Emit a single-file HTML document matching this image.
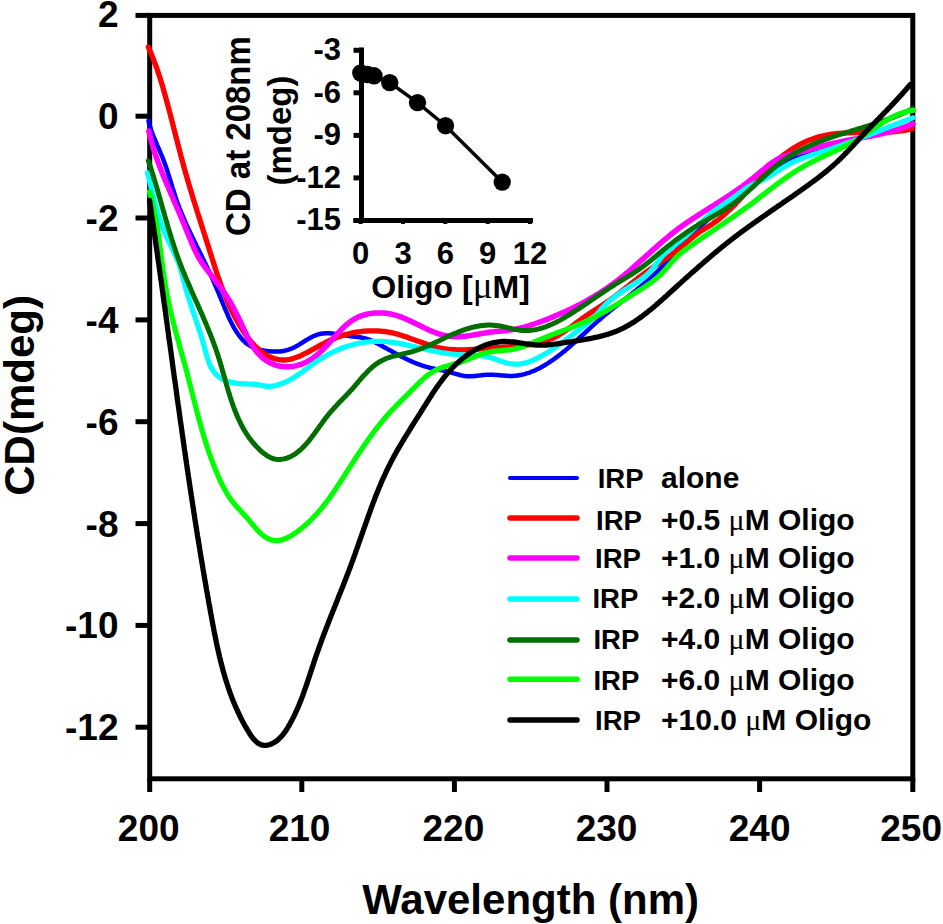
<!DOCTYPE html>
<html><head><meta charset="utf-8"><style>
html,body{margin:0;padding:0;background:#fff;width:943px;height:924px;overflow:hidden}
svg{display:block}
text{font-family:"Liberation Sans",sans-serif;font-weight:bold;fill:#000}
.t36{font-size:37px}.t42{font-size:42px}.t31{font-size:31px}.t32{font-size:32px}.t33{font-size:33px}.t34{font-size:34px}.t27{font-size:27.5px}.mu{font-family:"Liberation Serif",serif;font-weight:normal}.t30{font-size:30px}
</style></head><body>
<svg width="943" height="924" viewBox="0 0 943 924">
<rect x="149.7" y="15.4" width="763.1" height="763.4" fill="none" stroke="#000" stroke-width="5"/>
<line x1="135.5" y1="15.4" x2="150" y2="15.4" stroke="#000" stroke-width="5"/>
<text x="118.5" y="27.3" text-anchor="end" class="t36">2</text>
<line x1="135.5" y1="116.2" x2="150" y2="116.2" stroke="#000" stroke-width="5"/>
<text x="118.5" y="129.1" text-anchor="end" class="t36">0</text>
<line x1="135.5" y1="218.0" x2="150" y2="218.0" stroke="#000" stroke-width="5"/>
<text x="118.5" y="230.9" text-anchor="end" class="t36">-2</text>
<line x1="135.5" y1="319.9" x2="150" y2="319.9" stroke="#000" stroke-width="5"/>
<text x="118.5" y="332.8" text-anchor="end" class="t36">-4</text>
<line x1="135.5" y1="421.7" x2="150" y2="421.7" stroke="#000" stroke-width="5"/>
<text x="118.5" y="434.6" text-anchor="end" class="t36">-6</text>
<line x1="135.5" y1="523.6" x2="150" y2="523.6" stroke="#000" stroke-width="5"/>
<text x="118.5" y="536.5" text-anchor="end" class="t36">-8</text>
<line x1="135.5" y1="625.4" x2="150" y2="625.4" stroke="#000" stroke-width="5"/>
<text x="118.5" y="638.3" text-anchor="end" class="t36">-10</text>
<line x1="135.5" y1="727.2" x2="150" y2="727.2" stroke="#000" stroke-width="5"/>
<text x="118.5" y="740.1" text-anchor="end" class="t36">-12</text>
<line x1="149.7" y1="778" x2="149.7" y2="792" stroke="#000" stroke-width="5"/>
<text x="148.7" y="841.3" text-anchor="middle" class="t36">200</text>
<line x1="301.8" y1="778" x2="301.8" y2="792" stroke="#000" stroke-width="5"/>
<text x="299.5" y="841.3" text-anchor="middle" class="t36">210</text>
<line x1="454.4" y1="778" x2="454.4" y2="792" stroke="#000" stroke-width="5"/>
<text x="453.4" y="841.3" text-anchor="middle" class="t36">220</text>
<line x1="607.0" y1="778" x2="607.0" y2="792" stroke="#000" stroke-width="5"/>
<text x="606.6" y="841.3" text-anchor="middle" class="t36">230</text>
<line x1="759.6" y1="778" x2="759.6" y2="792" stroke="#000" stroke-width="5"/>
<text x="759.65" y="841.3" text-anchor="middle" class="t36">240</text>
<line x1="912.8" y1="778" x2="912.8" y2="792" stroke="#000" stroke-width="5"/>
<text x="911.15" y="841.3" text-anchor="middle" class="t36">250</text>
<text x="530.6" y="914" text-anchor="middle" class="t42">Wavelength (nm)</text>
<text transform="translate(34,395.4) rotate(-90)" text-anchor="middle" class="t42">CD(mdeg)</text>
<path d="M148.5,120.8 148.8,122.3 149.2,123.7 149.6,125.2 150.1,126.6 150.5,128.0 151.0,129.4 151.5,130.9 152.0,132.3 152.5,133.7 153.0,135.1 153.6,136.5 154.1,137.9 154.7,139.2 155.3,140.6 155.9,142.0 156.5,143.4 157.0,144.8 157.6,146.2 158.2,147.5 158.8,148.9 159.4,150.3 160.0,151.7 160.6,153.1 161.2,154.4 161.8,155.8 162.4,157.2 162.9,158.6 163.5,160.0 164.0,161.4 164.5,162.8 165.0,164.2 165.5,165.6 166.0,167.0 166.5,168.5 167.0,169.9 167.4,171.3 167.9,172.7 168.3,174.1 168.8,175.6 169.2,177.0 169.7,178.4 170.1,179.8 170.5,181.3 171.0,182.7 171.4,184.1 171.8,185.6 172.3,187.0 172.7,188.4 173.2,189.8 173.6,191.3 174.1,192.7 174.5,194.1 175.0,195.5 175.5,196.9 175.9,198.3 176.4,199.8 176.9,201.2 177.4,202.6 177.9,204.0 178.5,205.4 179.0,206.8 179.5,208.1 180.1,209.5 180.6,210.9 181.2,212.3 181.8,213.7 182.3,215.1 182.9,216.4 183.5,217.8 184.1,219.2 184.7,220.6 185.3,221.9 185.9,223.3 186.5,224.7 187.1,226.0 187.8,227.4 188.4,228.7 189.0,230.1 189.7,231.5 190.3,232.8 191.0,234.2 191.6,235.5 192.3,236.9 192.9,238.2 193.6,239.6 194.2,240.9 194.9,242.3 195.5,243.6 196.2,245.0 196.9,246.3 197.5,247.7 198.2,249.0 198.9,250.4 199.5,251.7 200.2,253.1 200.9,254.4 201.5,255.7 202.2,257.1 202.8,258.4 203.5,259.8 204.1,261.1 204.8,262.5 205.5,263.8 206.1,265.2 206.8,266.5 207.4,267.9 208.0,269.2 208.7,270.6 209.3,271.9 209.9,273.3 210.6,274.6 211.2,276.0 211.8,277.4 212.4,278.7 213.0,280.1 213.6,281.4 214.2,282.8 214.8,284.2 215.4,285.5 216.0,286.9 216.5,288.3 217.1,289.6 217.7,291.0 218.3,292.4 218.9,293.8 219.4,295.1 220.0,296.5 220.6,297.9 221.1,299.3 221.7,300.7 222.3,302.1 222.9,303.4 223.4,304.8 224.0,306.2 224.6,307.6 225.2,309.0 225.8,310.4 226.4,311.8 227.0,313.2 227.6,314.6 228.2,316.0 228.8,317.4 229.4,318.7 230.1,320.1 230.7,321.5 231.4,322.8 232.1,324.2 232.8,325.5 233.5,326.8 234.2,328.1 235.0,329.4 235.8,330.7 236.6,331.9 237.4,333.1 238.2,334.4 239.1,335.5 240.0,336.7 240.9,337.8 241.9,338.9 242.8,340.0 243.9,341.0 244.9,342.0 246.0,343.0 247.1,343.9 248.3,344.7 249.5,345.5 250.8,346.2 252.1,346.9 253.5,347.6 254.9,348.1 256.3,348.6 257.8,349.1 259.3,349.5 260.8,349.9 262.3,350.2 263.9,350.5 265.4,350.7 266.9,351.0 268.4,351.2 269.9,351.3 271.4,351.5 272.9,351.5 274.4,351.6 275.8,351.6 277.3,351.6 278.7,351.5 280.2,351.4 281.6,351.2 283.0,351.0 284.5,350.7 285.9,350.4 287.3,350.0 288.7,349.6 290.0,349.1 291.4,348.6 292.8,348.0 294.1,347.4 295.5,346.7 296.8,345.9 298.2,345.2 299.5,344.4 300.8,343.5 302.2,342.7 303.5,341.9 304.8,341.0 306.1,340.2 307.5,339.4 308.8,338.6 310.1,337.9 311.5,337.1 312.8,336.5 314.2,335.8 315.6,335.3 316.9,334.8 318.3,334.4 319.7,334.0 321.1,333.7 322.5,333.5 324.0,333.4 325.4,333.3 326.9,333.3 328.3,333.3 329.8,333.3 331.2,333.4 332.7,333.6 334.2,333.7 335.7,333.9 337.2,334.1 338.7,334.4 340.2,334.6 341.7,334.8 343.2,335.1 344.7,335.3 346.2,335.6 347.7,335.8 349.2,336.0 350.7,336.2 352.2,336.4 353.7,336.5 355.2,336.7 356.7,336.9 358.2,337.1 359.6,337.3 361.1,337.5 362.5,337.8 364.0,338.1 365.4,338.4 366.8,338.8 368.2,339.3 369.6,339.8 371.0,340.4 372.3,340.9 373.7,341.6 375.0,342.2 376.3,342.9 377.6,343.6 379.0,344.3 380.3,345.0 381.6,345.7 382.9,346.5 384.2,347.2 385.5,347.9 386.8,348.6 388.1,349.4 389.5,350.1 390.8,350.8 392.1,351.5 393.4,352.3 394.7,353.0 396.0,353.7 397.3,354.4 398.7,355.1 400.0,355.8 401.3,356.5 402.6,357.2 404.0,357.8 405.3,358.5 406.6,359.1 408.0,359.8 409.3,360.4 410.7,361.0 412.0,361.6 413.4,362.2 414.8,362.8 416.1,363.3 417.5,363.9 418.9,364.4 420.3,364.9 421.7,365.4 423.1,365.8 424.5,366.3 425.9,366.7 427.4,367.1 428.8,367.5 430.2,367.8 431.7,368.2 433.2,368.5 434.6,368.8 436.1,369.1 437.6,369.4 439.0,369.7 440.5,370.0 442.0,370.3 443.5,370.6 444.9,371.0 446.4,371.3 447.9,371.7 449.3,372.0 450.8,372.4 452.2,372.8 453.7,373.3 455.1,373.7 456.6,374.1 458.0,374.5 459.4,374.9 460.9,375.3 462.3,375.6 463.8,375.9 465.2,376.1 466.7,376.2 468.1,376.3 469.6,376.3 471.1,376.2 472.6,376.2 474.1,376.0 475.5,375.9 477.0,375.7 478.5,375.6 480.0,375.4 481.5,375.2 483.0,375.0 484.6,374.9 486.1,374.8 487.6,374.7 489.1,374.7 490.6,374.7 492.1,374.7 493.6,374.8 495.1,374.9 496.6,375.0 498.1,375.1 499.6,375.2 501.1,375.4 502.6,375.5 504.1,375.6 505.6,375.7 507.1,375.8 508.6,375.9 510.1,375.9 511.5,375.9 513.0,375.9 514.5,375.8 515.9,375.7 517.4,375.5 518.9,375.3 520.3,375.1 521.7,374.8 523.2,374.4 524.6,374.1 526.0,373.7 527.4,373.2 528.8,372.8 530.2,372.3 531.6,371.7 533.0,371.2 534.4,370.6 535.7,370.0 537.1,369.3 538.5,368.7 539.8,368.0 541.1,367.3 542.5,366.5 543.8,365.8 545.1,365.0 546.4,364.2 547.7,363.4 548.9,362.6 550.2,361.7 551.5,360.9 552.7,360.0 554.0,359.1 555.2,358.2 556.4,357.4 557.6,356.4 558.8,355.5 560.0,354.6 561.2,353.7 562.4,352.7 563.5,351.8 564.7,350.9 565.9,349.9 567.0,348.9 568.1,348.0 569.3,347.0 570.4,346.0 571.5,345.0 572.6,344.0 573.8,343.0 574.9,342.1 576.0,341.1 577.1,340.1 578.2,339.0 579.3,338.0 580.4,337.0 581.5,336.0 582.6,335.0 583.7,334.0 584.8,333.0 585.9,332.0 587.0,331.0 588.1,330.0 589.2,328.9 590.3,327.9 591.4,326.9 592.5,325.9 593.6,324.9 594.7,323.9 595.8,322.9 596.9,321.9 598.0,320.9 599.2,320.0 600.3,319.0 601.4,318.0 602.6,317.0 603.7,316.1 604.9,315.1 606.0,314.1 607.2,313.2 608.4,312.2 609.5,311.3 610.7,310.3 611.9,309.4 613.1,308.4 614.2,307.5 615.4,306.6 616.6,305.6 617.8,304.7 619.0,303.8 620.2,302.8 621.3,301.9 622.5,301.0 623.7,300.0 624.9,299.1 626.1,298.2 627.3,297.3 628.4,296.3 629.6,295.4 630.8,294.5 632.0,293.5 633.1,292.6 634.3,291.7 635.5,290.8 636.6,289.8 637.8,288.9 638.9,287.9 640.1,287.0 641.2,286.1 642.4,285.1 643.5,284.2 644.6,283.2 645.7,282.3 646.8,281.3 648.0,280.3 649.1,279.4 650.1,278.4 651.2,277.4 652.3,276.4 653.4,275.4 654.4,274.5 655.5,273.5 656.5,272.4 657.6,271.4 658.6,270.4 659.6,269.4 660.6,268.3 661.6,267.3 662.6,266.2 663.6,265.1 664.6,264.0 665.5,262.9 666.5,261.7 667.5,260.6 668.4,259.4 669.4,258.3 670.3,257.1 671.3,256.0 672.2,254.8 673.2,253.7 674.2,252.6 675.2,251.5 676.2,250.4 677.2,249.3 678.2,248.2 679.2,247.1 680.2,246.0 681.3,245.0 682.3,243.9 683.4,242.9 684.4,241.8 685.5,240.8 686.5,239.7 687.6,238.7 688.6,237.7 689.7,236.6 690.8,235.6 691.9,234.6 693.0,233.6 694.0,232.6 695.1,231.5 696.2,230.5 697.3,229.5 698.4,228.5 699.5,227.5 700.6,226.5 701.7,225.5 702.8,224.4 703.9,223.4 705.0,222.4 706.1,221.4 707.2,220.4 708.3,219.3 709.4,218.3 710.5,217.3 711.6,216.3 712.7,215.2 713.8,214.2 714.9,213.2 716.0,212.2 717.2,211.2 718.3,210.2 719.4,209.1 720.5,208.1 721.6,207.1 722.8,206.1 723.9,205.1 725.0,204.1 726.2,203.1 727.3,202.1 728.4,201.1 729.6,200.1 730.7,199.1 731.9,198.2 733.0,197.2 734.2,196.2 735.3,195.2 736.5,194.3 737.7,193.3 738.8,192.4 740.0,191.4 741.2,190.5 742.4,189.5 743.5,188.6 744.7,187.7 745.9,186.7 747.1,185.8 748.3,184.9 749.5,184.0 750.7,183.1 751.9,182.2 753.1,181.4 754.3,180.5 755.6,179.6 756.8,178.8 758.0,177.9 759.2,177.1 760.5,176.2 761.7,175.4 763.0,174.6 764.2,173.8 765.5,173.0 766.8,172.2 768.0,171.4 769.3,170.7 770.6,169.9 771.9,169.2 773.2,168.4 774.4,167.7 775.8,167.0 777.1,166.3 778.4,165.6 779.7,164.9 781.0,164.2 782.3,163.6 783.7,162.9 785.0,162.3 786.4,161.6 787.7,161.0 789.0,160.4 790.4,159.8 791.8,159.2 793.1,158.6 794.5,158.0 795.9,157.5 797.3,156.9 798.6,156.3 800.0,155.8 801.4,155.2 802.8,154.7 804.2,154.2 805.6,153.7 807.0,153.2 808.4,152.7 809.8,152.2 811.2,151.7 812.7,151.2 814.1,150.7 815.5,150.3 816.9,149.8 818.4,149.4 819.8,148.9 821.2,148.5 822.7,148.0 824.1,147.6 825.5,147.2 827.0,146.8 828.4,146.3 829.9,145.9 831.3,145.5 832.8,145.1 834.2,144.7 835.7,144.3 837.1,144.0 838.6,143.6 840.1,143.2 841.5,142.8 843.0,142.4 844.5,142.1 845.9,141.7 847.4,141.4 848.8,141.0 850.3,140.6 851.8,140.3 853.2,139.9 854.7,139.6 856.2,139.3 857.7,138.9 859.1,138.6 860.6,138.2 862.1,137.9 863.5,137.6 865.0,137.2 866.5,136.9 867.9,136.6 869.4,136.2 870.9,135.9 872.3,135.6 873.8,135.3 875.3,134.9 876.7,134.6 878.2,134.3 879.7,134.0 881.1,133.6 882.6,133.3 884.1,133.0 885.5,132.6 887.0,132.3 888.4,132.0 889.9,131.7 891.3,131.3 892.8,131.0 894.2,130.7 895.7,130.3 897.1,130.0 898.6,129.7 900.0,129.3 901.4,129.0 902.9,128.6 904.3,128.3 905.7,127.9 907.1,127.6 908.6,127.2 910.0,126.9 911.4,126.5 912.8,126.1" fill="none" stroke="#0000ff" stroke-width="4.5" stroke-linejoin="round" stroke-linecap="round"/>
<path d="M148.3,47.0 148.9,48.3 149.5,49.7 150.1,51.1 150.7,52.4 151.3,53.8 151.8,55.2 152.4,56.6 152.9,58.0 153.5,59.4 154.0,60.8 154.5,62.2 155.1,63.6 155.6,65.0 156.1,66.4 156.6,67.8 157.1,69.2 157.6,70.6 158.0,72.1 158.5,73.5 159.0,74.9 159.5,76.3 159.9,77.7 160.4,79.2 160.8,80.6 161.3,82.0 161.7,83.5 162.1,84.9 162.6,86.3 163.0,87.8 163.4,89.2 163.8,90.7 164.2,92.1 164.6,93.6 165.0,95.0 165.4,96.4 165.8,97.9 166.2,99.3 166.6,100.8 167.0,102.2 167.4,103.7 167.8,105.1 168.2,106.6 168.6,108.0 169.0,109.5 169.3,110.9 169.7,112.4 170.1,113.8 170.5,115.3 170.8,116.7 171.2,118.2 171.6,119.6 172.0,121.1 172.3,122.5 172.7,124.0 173.1,125.4 173.4,126.9 173.8,128.3 174.2,129.8 174.6,131.2 174.9,132.7 175.3,134.1 175.7,135.6 176.0,137.0 176.4,138.4 176.8,139.9 177.2,141.3 177.5,142.8 177.9,144.2 178.3,145.7 178.7,147.1 179.0,148.6 179.4,150.0 179.8,151.5 180.2,152.9 180.5,154.3 180.9,155.8 181.3,157.2 181.7,158.7 182.1,160.1 182.5,161.6 182.9,163.0 183.3,164.4 183.6,165.9 184.0,167.3 184.4,168.8 184.8,170.2 185.2,171.6 185.6,173.1 186.1,174.5 186.5,176.0 186.9,177.4 187.3,178.8 187.7,180.3 188.1,181.7 188.6,183.1 189.0,184.6 189.4,186.0 189.8,187.4 190.3,188.9 190.7,190.3 191.1,191.7 191.6,193.2 192.0,194.6 192.4,196.0 192.9,197.5 193.3,198.9 193.7,200.3 194.2,201.8 194.6,203.2 195.1,204.6 195.5,206.1 196.0,207.5 196.4,208.9 196.9,210.4 197.3,211.8 197.8,213.2 198.2,214.6 198.7,216.1 199.1,217.5 199.6,218.9 200.0,220.4 200.5,221.8 200.9,223.2 201.4,224.6 201.8,226.1 202.3,227.5 202.8,228.9 203.2,230.3 203.7,231.8 204.1,233.2 204.6,234.6 205.0,236.1 205.5,237.5 205.9,238.9 206.4,240.3 206.8,241.8 207.3,243.2 207.7,244.6 208.2,246.0 208.6,247.5 209.1,248.9 209.5,250.3 210.0,251.7 210.4,253.2 210.9,254.6 211.3,256.0 211.8,257.4 212.2,258.8 212.7,260.3 213.1,261.7 213.6,263.1 214.0,264.5 214.5,265.9 214.9,267.4 215.4,268.8 215.9,270.2 216.3,271.6 216.8,273.0 217.3,274.4 217.7,275.8 218.2,277.2 218.7,278.6 219.2,280.1 219.7,281.5 220.2,282.9 220.7,284.3 221.2,285.7 221.7,287.0 222.2,288.4 222.8,289.8 223.3,291.2 223.8,292.6 224.4,294.0 224.9,295.4 225.5,296.7 226.1,298.1 226.6,299.5 227.2,300.9 227.8,302.2 228.4,303.6 229.0,305.0 229.6,306.3 230.3,307.7 230.9,309.0 231.6,310.4 232.2,311.7 232.9,313.1 233.6,314.4 234.2,315.7 234.9,317.1 235.7,318.4 236.4,319.7 237.1,321.0 237.9,322.4 238.6,323.7 239.4,325.0 240.2,326.3 241.0,327.6 241.8,328.9 242.6,330.2 243.4,331.4 244.3,332.7 245.2,334.0 246.0,335.2 246.9,336.5 247.8,337.7 248.8,338.9 249.7,340.1 250.7,341.2 251.7,342.4 252.7,343.5 253.7,344.6 254.7,345.7 255.8,346.8 256.9,347.8 258.0,348.8 259.1,349.8 260.2,350.7 261.4,351.6 262.6,352.5 263.8,353.3 265.0,354.1 266.2,354.9 267.5,355.6 268.8,356.3 270.1,356.9 271.4,357.5 272.8,358.0 274.1,358.5 275.5,358.9 276.9,359.2 278.2,359.5 279.6,359.8 281.0,359.9 282.5,360.0 283.9,360.0 285.3,360.0 286.7,359.8 288.1,359.6 289.5,359.4 291.0,359.1 292.4,358.7 293.8,358.3 295.2,357.8 296.7,357.3 298.1,356.8 299.5,356.2 300.9,355.6 302.3,354.9 303.7,354.2 305.1,353.5 306.5,352.8 307.9,352.1 309.2,351.4 310.6,350.6 311.9,349.9 313.3,349.1 314.6,348.4 316.0,347.7 317.3,346.9 318.6,346.2 320.0,345.4 321.3,344.7 322.6,344.0 324.0,343.3 325.3,342.6 326.6,341.9 328.0,341.3 329.4,340.6 330.7,340.0 332.1,339.4 333.5,338.8 334.9,338.2 336.2,337.7 337.6,337.2 339.0,336.7 340.4,336.2 341.9,335.7 343.3,335.3 344.7,334.8 346.1,334.4 347.6,334.1 349.0,333.7 350.4,333.4 351.9,333.0 353.3,332.7 354.8,332.5 356.2,332.2 357.7,332.0 359.2,331.8 360.6,331.6 362.1,331.4 363.6,331.2 365.0,331.1 366.5,331.0 368.0,330.9 369.4,330.9 370.9,330.8 372.4,330.8 373.9,330.8 375.4,330.8 376.8,330.9 378.3,331.0 379.8,331.1 381.3,331.2 382.7,331.3 384.2,331.5 385.7,331.7 387.1,331.9 388.6,332.2 390.1,332.4 391.5,332.7 393.0,333.0 394.5,333.4 395.9,333.7 397.4,334.1 398.8,334.5 400.3,335.0 401.7,335.4 403.2,335.9 404.6,336.4 406.0,336.8 407.5,337.3 408.9,337.9 410.4,338.4 411.8,338.9 413.2,339.4 414.7,340.0 416.1,340.5 417.5,341.0 419.0,341.6 420.4,342.1 421.8,342.6 423.2,343.1 424.7,343.6 426.1,344.1 427.5,344.6 429.0,345.1 430.4,345.5 431.9,346.0 433.3,346.4 434.7,346.8 436.2,347.1 437.6,347.5 439.1,347.8 440.5,348.1 442.0,348.4 443.4,348.6 444.9,348.8 446.3,349.0 447.8,349.2 449.3,349.3 450.7,349.5 452.2,349.6 453.7,349.6 455.1,349.7 456.6,349.8 458.1,349.8 459.6,349.8 461.0,349.8 462.5,349.8 464.0,349.8 465.5,349.8 467.0,349.7 468.5,349.6 470.0,349.6 471.5,349.5 472.9,349.4 474.4,349.3 475.9,349.2 477.4,349.1 478.9,349.0 480.4,348.9 481.9,348.8 483.5,348.6 485.0,348.5 486.5,348.4 488.0,348.3 489.5,348.1 491.0,348.0 492.5,347.9 494.0,347.8 495.5,347.7 497.1,347.5 498.6,347.4 500.1,347.3 501.6,347.2 503.1,347.1 504.6,347.1 506.2,347.0 507.7,346.9 509.2,346.8 510.7,346.7 512.2,346.6 513.7,346.4 515.2,346.3 516.7,346.2 518.2,346.1 519.7,345.9 521.2,345.8 522.7,345.6 524.2,345.5 525.7,345.3 527.2,345.1 528.6,344.9 530.1,344.7 531.6,344.4 533.0,344.2 534.5,343.9 535.9,343.6 537.3,343.3 538.8,342.9 540.2,342.6 541.6,342.2 543.0,341.8 544.4,341.4 545.8,340.9 547.2,340.5 548.5,340.0 549.9,339.4 551.2,338.9 552.5,338.3 553.9,337.6 555.2,337.0 556.5,336.3 557.8,335.6 559.1,334.9 560.3,334.1 561.6,333.3 562.8,332.5 564.1,331.7 565.3,330.9 566.6,330.0 567.8,329.1 569.0,328.3 570.3,327.4 571.5,326.5 572.7,325.6 573.9,324.7 575.2,323.8 576.4,322.8 577.6,321.9 578.8,321.0 580.0,320.1 581.3,319.2 582.5,318.3 583.7,317.5 584.9,316.6 586.2,315.7 587.4,314.9 588.7,314.1 589.9,313.2 591.1,312.4 592.4,311.6 593.6,310.8 594.9,310.0 596.1,309.2 597.4,308.4 598.6,307.5 599.9,306.7 601.1,305.9 602.3,305.1 603.6,304.3 604.8,303.5 606.0,302.7 607.3,301.8 608.5,301.0 609.7,300.1 610.9,299.3 612.1,298.4 613.3,297.5 614.5,296.6 615.7,295.7 616.9,294.8 618.1,293.9 619.3,293.0 620.4,292.1 621.6,291.2 622.8,290.2 624.0,289.3 625.1,288.4 626.3,287.4 627.5,286.5 628.7,285.6 629.8,284.6 631.0,283.7 632.2,282.8 633.4,281.8 634.5,280.9 635.7,280.0 636.9,279.1 638.1,278.1 639.3,277.2 640.5,276.3 641.7,275.4 642.9,274.5 644.1,273.6 645.3,272.7 646.5,271.9 647.7,271.0 648.9,270.1 650.2,269.3 651.4,268.4 652.6,267.6 653.9,266.8 655.1,265.9 656.3,265.1 657.6,264.3 658.8,263.4 660.0,262.6 661.3,261.8 662.5,260.9 663.7,260.1 665.0,259.3 666.2,258.4 667.4,257.6 668.6,256.7 669.9,255.9 671.1,255.0 672.3,254.1 673.5,253.2 674.7,252.4 675.9,251.5 677.0,250.5 678.2,249.6 679.4,248.7 680.5,247.7 681.7,246.8 682.8,245.8 683.9,244.9 685.1,243.9 686.2,242.9 687.3,241.9 688.5,240.9 689.6,239.9 690.7,239.0 691.9,238.0 693.0,237.0 694.2,236.1 695.4,235.2 696.5,234.2 697.7,233.3 699.0,232.5 700.2,231.6 701.4,230.8 702.7,229.9 704.0,229.2 705.3,228.4 706.6,227.6 707.9,226.8 709.1,226.0 710.4,225.2 711.7,224.4 712.9,223.6 714.1,222.7 715.4,221.8 716.6,221.0 717.8,220.1 718.9,219.2 720.1,218.2 721.2,217.3 722.4,216.3 723.5,215.4 724.6,214.4 725.7,213.4 726.8,212.4 727.9,211.4 729.0,210.4 730.1,209.4 731.1,208.3 732.2,207.3 733.2,206.2 734.3,205.2 735.3,204.1 736.3,203.0 737.4,201.9 738.4,200.9 739.4,199.8 740.4,198.7 741.4,197.6 742.4,196.5 743.4,195.3 744.4,194.2 745.4,193.1 746.4,192.0 747.4,190.9 748.4,189.7 749.4,188.6 750.4,187.5 751.4,186.4 752.4,185.3 753.4,184.1 754.4,183.0 755.4,181.9 756.4,180.8 757.4,179.7 758.4,178.6 759.4,177.5 760.4,176.3 761.4,175.3 762.5,174.2 763.5,173.1 764.5,172.0 765.6,170.9 766.7,169.9 767.7,168.8 768.8,167.8 769.9,166.7 771.0,165.7 772.1,164.7 773.2,163.7 774.3,162.7 775.4,161.7 776.5,160.7 777.7,159.7 778.8,158.8 780.0,157.8 781.2,156.9 782.3,156.0 783.5,155.0 784.7,154.2 785.9,153.3 787.1,152.4 788.3,151.6 789.6,150.7 790.8,149.9 792.1,149.1 793.3,148.3 794.6,147.5 795.8,146.8 797.1,146.1 798.4,145.3 799.7,144.6 801.0,143.9 802.3,143.3 803.6,142.6 805.0,142.0 806.3,141.4 807.7,140.8 809.0,140.3 810.4,139.7 811.8,139.2 813.1,138.7 814.5,138.2 815.9,137.8 817.3,137.3 818.7,136.9 820.2,136.5 821.6,136.2 823.0,135.8 824.5,135.5 825.9,135.2 827.4,134.9 828.8,134.7 830.3,134.4 831.8,134.2 833.3,134.0 834.8,133.9 836.3,133.7 837.8,133.5 839.3,133.4 840.8,133.3 842.3,133.2 843.8,133.1 845.3,133.0 846.8,132.9 848.4,132.9 849.9,132.8 851.4,132.8 852.9,132.7 854.5,132.7 856.0,132.7 857.6,132.6 859.1,132.6 860.6,132.6 862.2,132.6 863.7,132.6 865.3,132.6 866.8,132.6 868.3,132.6 869.9,132.6 871.4,132.6 872.9,132.6 874.5,132.5 876.0,132.5 877.5,132.5 879.1,132.5 880.6,132.4 882.1,132.4 883.6,132.3 885.1,132.3 886.6,132.2 888.1,132.1 889.6,132.0 891.1,131.9 892.6,131.8 894.1,131.7 895.6,131.5 897.0,131.4 898.5,131.2 899.9,131.0 901.4,130.8 902.8,130.6 904.3,130.3 905.7,130.1 907.1,129.8 908.5,129.5 909.9,129.1 911.3,128.8 912.7,128.4" fill="none" stroke="#ff0000" stroke-width="5.3" stroke-linejoin="round" stroke-linecap="round"/>
<path d="M148.8,131.1 149.2,132.5 149.5,134.0 149.9,135.5 150.2,137.0 150.6,138.4 151.0,139.9 151.4,141.4 151.8,142.8 152.2,144.3 152.6,145.7 153.1,147.1 153.5,148.6 153.9,150.0 154.4,151.5 154.9,152.9 155.3,154.3 155.8,155.7 156.3,157.1 156.8,158.6 157.3,160.0 157.8,161.4 158.3,162.8 158.8,164.2 159.4,165.6 159.9,167.0 160.4,168.4 161.0,169.8 161.5,171.2 162.1,172.5 162.6,173.9 163.2,175.3 163.8,176.7 164.3,178.1 164.9,179.5 165.5,180.8 166.1,182.2 166.6,183.6 167.2,185.0 167.8,186.4 168.4,187.7 169.0,189.1 169.6,190.5 170.2,191.8 170.8,193.2 171.4,194.6 172.0,196.0 172.6,197.3 173.2,198.7 173.7,200.1 174.3,201.5 174.9,202.8 175.5,204.2 176.1,205.6 176.7,206.9 177.3,208.3 177.9,209.7 178.5,211.1 179.1,212.5 179.7,213.8 180.3,215.2 180.8,216.6 181.4,218.0 182.0,219.4 182.6,220.8 183.1,222.1 183.7,223.5 184.3,224.9 184.9,226.3 185.4,227.7 186.0,229.1 186.6,230.5 187.1,231.9 187.7,233.3 188.3,234.6 188.8,236.0 189.4,237.4 190.0,238.8 190.6,240.2 191.2,241.6 191.7,242.9 192.3,244.3 192.9,245.7 193.5,247.0 194.1,248.4 194.8,249.8 195.4,251.1 196.0,252.4 196.7,253.8 197.4,255.1 198.0,256.4 198.8,257.7 199.5,259.0 200.3,260.2 201.1,261.5 201.9,262.7 202.7,263.9 203.6,265.2 204.5,266.4 205.3,267.6 206.2,268.8 207.1,270.0 208.0,271.1 208.9,272.3 209.9,273.5 210.8,274.7 211.7,275.9 212.6,277.1 213.5,278.2 214.4,279.4 215.4,280.6 216.3,281.8 217.2,283.0 218.1,284.2 219.0,285.4 219.9,286.6 220.8,287.8 221.6,289.0 222.5,290.2 223.4,291.5 224.2,292.7 225.1,293.9 225.9,295.2 226.7,296.4 227.5,297.7 228.3,298.9 229.1,300.2 229.9,301.5 230.6,302.8 231.4,304.0 232.1,305.3 232.8,306.6 233.5,308.0 234.2,309.3 234.9,310.6 235.6,311.9 236.3,313.3 236.9,314.6 237.6,316.0 238.3,317.3 238.9,318.7 239.6,320.0 240.2,321.4 240.8,322.8 241.5,324.1 242.1,325.5 242.8,326.9 243.4,328.3 244.1,329.7 244.7,331.1 245.4,332.4 246.0,333.8 246.7,335.2 247.3,336.5 248.0,337.9 248.7,339.2 249.4,340.6 250.2,341.9 250.9,343.2 251.7,344.5 252.4,345.7 253.2,347.0 254.0,348.2 254.9,349.4 255.7,350.6 256.6,351.7 257.5,352.8 258.5,353.9 259.5,354.9 260.5,355.9 261.5,356.9 262.6,357.9 263.7,358.8 264.8,359.6 266.0,360.4 267.2,361.2 268.4,361.9 269.7,362.6 270.9,363.2 272.3,363.8 273.6,364.4 274.9,364.9 276.3,365.3 277.7,365.7 279.1,366.0 280.5,366.3 282.0,366.5 283.4,366.6 284.9,366.7 286.3,366.8 287.8,366.8 289.3,366.7 290.7,366.6 292.2,366.4 293.7,366.2 295.2,365.9 296.6,365.6 298.1,365.2 299.5,364.7 301.0,364.3 302.4,363.8 303.8,363.2 305.2,362.6 306.5,361.9 307.9,361.2 309.2,360.5 310.5,359.7 311.8,358.9 313.0,358.1 314.2,357.2 315.4,356.3 316.6,355.3 317.8,354.4 318.9,353.4 320.0,352.4 321.1,351.3 322.2,350.3 323.3,349.2 324.4,348.1 325.4,347.0 326.5,345.9 327.5,344.7 328.6,343.6 329.6,342.4 330.6,341.3 331.7,340.1 332.7,339.0 333.7,337.8 334.7,336.7 335.7,335.6 336.8,334.4 337.8,333.3 338.8,332.2 339.9,331.1 340.9,330.0 342.0,329.0 343.0,327.9 344.1,326.9 345.2,325.9 346.3,324.9 347.4,324.0 348.6,323.1 349.7,322.2 350.9,321.3 352.1,320.5 353.3,319.7 354.6,319.0 355.8,318.3 357.1,317.6 358.4,317.0 359.8,316.4 361.1,315.9 362.5,315.4 363.9,315.0 365.3,314.6 366.8,314.2 368.2,313.9 369.7,313.6 371.1,313.4 372.6,313.2 374.1,313.1 375.6,313.0 377.1,312.9 378.6,312.9 380.1,312.9 381.6,312.9 383.1,313.0 384.7,313.1 386.2,313.3 387.6,313.5 389.1,313.7 390.6,314.0 392.1,314.3 393.6,314.7 395.0,315.0 396.4,315.5 397.9,315.9 399.3,316.4 400.7,316.9 402.1,317.4 403.5,318.0 404.9,318.5 406.3,319.1 407.7,319.8 409.0,320.4 410.4,321.0 411.8,321.7 413.1,322.3 414.5,323.0 415.9,323.7 417.2,324.3 418.6,325.0 420.0,325.7 421.3,326.4 422.7,327.0 424.0,327.7 425.4,328.4 426.8,329.0 428.2,329.6 429.5,330.3 430.9,330.9 432.3,331.4 433.7,332.0 435.1,332.5 436.5,333.1 437.9,333.5 439.3,334.0 440.7,334.4 442.2,334.8 443.6,335.2 445.0,335.5 446.5,335.8 447.9,336.0 449.4,336.3 450.9,336.4 452.3,336.5 453.8,336.6 455.3,336.7 456.8,336.7 458.2,336.7 459.7,336.7 461.2,336.6 462.7,336.5 464.2,336.3 465.7,336.2 467.2,336.0 468.6,335.8 470.1,335.6 471.6,335.3 473.1,335.1 474.6,334.8 476.0,334.5 477.5,334.2 479.0,334.0 480.5,333.7 481.9,333.4 483.4,333.2 484.9,332.9 486.4,332.7 487.8,332.5 489.3,332.3 490.8,332.1 492.2,331.9 493.7,331.8 495.2,331.6 496.6,331.5 498.1,331.3 499.6,331.2 501.0,331.1 502.5,330.9 503.9,330.8 505.4,330.6 506.9,330.4 508.3,330.3 509.8,330.1 511.2,329.9 512.7,329.6 514.1,329.4 515.6,329.1 517.0,328.8 518.4,328.5 519.9,328.1 521.3,327.8 522.8,327.4 524.2,327.1 525.6,326.7 527.1,326.3 528.5,325.8 529.9,325.4 531.3,324.9 532.8,324.5 534.2,324.0 535.6,323.5 537.0,323.0 538.4,322.5 539.8,322.0 541.3,321.5 542.7,321.0 544.1,320.4 545.5,319.9 546.9,319.3 548.3,318.8 549.7,318.2 551.1,317.7 552.5,317.1 553.8,316.5 555.2,315.9 556.6,315.3 558.0,314.7 559.4,314.1 560.8,313.5 562.1,312.9 563.5,312.3 564.9,311.7 566.2,311.1 567.6,310.4 569.0,309.8 570.3,309.2 571.7,308.5 573.0,307.8 574.4,307.2 575.7,306.5 577.0,305.8 578.4,305.1 579.7,304.5 581.0,303.8 582.3,303.1 583.7,302.3 585.0,301.6 586.3,300.9 587.6,300.2 588.9,299.4 590.2,298.7 591.5,297.9 592.8,297.2 594.1,296.4 595.3,295.7 596.6,294.9 597.9,294.1 599.2,293.3 600.4,292.5 601.7,291.7 602.9,290.9 604.2,290.0 605.4,289.2 606.6,288.4 607.9,287.5 609.1,286.7 610.3,285.8 611.5,284.9 612.7,284.1 613.9,283.2 615.1,282.3 616.3,281.4 617.5,280.5 618.7,279.6 619.9,278.6 621.0,277.7 622.2,276.8 623.4,275.8 624.5,274.9 625.7,273.9 626.8,273.0 628.0,272.0 629.1,271.0 630.3,270.0 631.4,269.1 632.5,268.1 633.7,267.1 634.8,266.1 635.9,265.1 637.0,264.1 638.2,263.1 639.3,262.1 640.4,261.1 641.5,260.1 642.6,259.1 643.8,258.1 644.9,257.1 646.0,256.1 647.1,255.1 648.2,254.1 649.4,253.1 650.5,252.1 651.6,251.1 652.7,250.1 653.8,249.1 655.0,248.1 656.1,247.1 657.2,246.1 658.3,245.1 659.5,244.1 660.6,243.1 661.7,242.2 662.9,241.2 664.0,240.2 665.2,239.2 666.3,238.3 667.5,237.3 668.6,236.4 669.8,235.4 670.9,234.5 672.1,233.5 673.3,232.6 674.5,231.7 675.7,230.8 676.8,229.9 678.0,228.9 679.2,228.1 680.4,227.2 681.7,226.3 682.9,225.4 684.1,224.5 685.3,223.7 686.5,222.8 687.8,222.0 689.0,221.1 690.3,220.3 691.5,219.5 692.7,218.6 694.0,217.8 695.3,217.0 696.5,216.2 697.8,215.4 699.0,214.6 700.3,213.8 701.6,213.0 702.8,212.2 704.1,211.4 705.4,210.6 706.6,209.8 707.9,209.0 709.2,208.2 710.4,207.4 711.7,206.6 713.0,205.8 714.3,205.0 715.5,204.2 716.8,203.4 718.1,202.6 719.3,201.8 720.6,201.0 721.9,200.2 723.1,199.4 724.4,198.6 725.6,197.7 726.9,196.9 728.1,196.1 729.4,195.3 730.6,194.5 731.9,193.6 733.1,192.8 734.3,191.9 735.6,191.1 736.8,190.2 738.0,189.4 739.2,188.5 740.5,187.6 741.7,186.8 742.9,185.9 744.1,185.0 745.3,184.1 746.5,183.2 747.7,182.3 748.9,181.4 750.0,180.5 751.2,179.5 752.4,178.6 753.6,177.7 754.7,176.7 755.9,175.8 757.1,174.8 758.2,173.9 759.4,172.9 760.5,171.9 761.7,171.0 762.8,170.0 764.0,169.0 765.1,168.1 766.3,167.1 767.4,166.2 768.6,165.2 769.8,164.3 770.9,163.4 772.2,162.6 773.4,161.8 774.6,161.0 775.9,160.2 777.1,159.5 778.4,158.8 779.8,158.2 781.1,157.6 782.4,157.0 783.8,156.5 785.2,156.0 786.6,155.6 788.0,155.1 789.5,154.7 790.9,154.3 792.4,153.9 793.8,153.6 795.3,153.2 796.8,152.8 798.2,152.5 799.7,152.1 801.2,151.8 802.6,151.4 804.1,151.1 805.6,150.7 807.0,150.3 808.5,149.9 809.9,149.5 811.4,149.1 812.8,148.7 814.3,148.3 815.7,147.9 817.2,147.5 818.6,147.1 820.1,146.7 821.5,146.3 822.9,145.9 824.4,145.5 825.8,145.2 827.3,144.8 828.7,144.4 830.2,144.0 831.6,143.7 833.1,143.4 834.6,143.0 836.0,142.7 837.5,142.4 838.9,142.1 840.4,141.8 841.9,141.5 843.3,141.2 844.8,140.9 846.3,140.6 847.7,140.3 849.2,140.0 850.7,139.8 852.1,139.5 853.6,139.2 855.1,139.0 856.6,138.7 858.0,138.4 859.5,138.2 861.0,137.9 862.4,137.6 863.9,137.4 865.4,137.1 866.8,136.8 868.3,136.5 869.8,136.3 871.2,136.0 872.7,135.7 874.2,135.4 875.6,135.1 877.1,134.8 878.6,134.5 880.0,134.1 881.5,133.8 882.9,133.5 884.4,133.1 885.8,132.8 887.3,132.4 888.7,132.1 890.2,131.7 891.6,131.3 893.1,130.9 894.5,130.5 895.9,130.0 897.4,129.6 898.8,129.1 900.2,128.7 901.6,128.2 903.0,127.7 904.5,127.2 905.9,126.6 907.3,126.1 908.7,125.5 910.1,124.9 911.5,124.3 912.9,123.7" fill="none" stroke="#ff00ff" stroke-width="5.5" stroke-linejoin="round" stroke-linecap="round"/>
<path d="M147.5,172.7 147.9,174.2 148.2,175.6 148.6,177.0 148.9,178.4 149.3,179.9 149.6,181.3 150.0,182.8 150.4,184.2 150.7,185.7 151.1,187.1 151.4,188.6 151.8,190.0 152.1,191.5 152.5,192.9 152.9,194.4 153.2,195.8 153.6,197.3 154.0,198.8 154.3,200.2 154.7,201.7 155.1,203.1 155.5,204.6 155.9,206.1 156.3,207.5 156.7,209.0 157.1,210.4 157.5,211.9 158.0,213.3 158.4,214.8 158.8,216.2 159.3,217.6 159.7,219.1 160.2,220.5 160.7,221.9 161.2,223.3 161.7,224.7 162.2,226.2 162.7,227.6 163.2,229.0 163.8,230.3 164.3,231.7 164.9,233.1 165.4,234.5 166.0,235.8 166.6,237.2 167.2,238.5 167.9,239.9 168.5,241.2 169.1,242.6 169.8,243.9 170.5,245.2 171.1,246.5 171.8,247.9 172.4,249.2 173.1,250.5 173.7,251.8 174.3,253.2 175.0,254.5 175.6,255.9 176.2,257.2 176.7,258.6 177.3,260.0 177.8,261.4 178.4,262.8 178.9,264.2 179.3,265.6 179.8,267.0 180.3,268.5 180.7,269.9 181.1,271.4 181.5,272.8 182.0,274.3 182.4,275.8 182.8,277.2 183.1,278.7 183.5,280.2 183.9,281.6 184.3,283.1 184.7,284.6 185.1,286.0 185.5,287.5 185.9,288.9 186.3,290.4 186.7,291.8 187.1,293.2 187.5,294.7 188.0,296.1 188.4,297.5 188.9,298.9 189.3,300.3 189.8,301.7 190.2,303.1 190.7,304.5 191.1,305.9 191.6,307.3 192.1,308.7 192.5,310.1 193.0,311.5 193.5,312.8 193.9,314.2 194.4,315.6 194.9,317.0 195.4,318.4 195.8,319.8 196.3,321.2 196.8,322.6 197.3,324.0 197.7,325.4 198.2,326.8 198.7,328.2 199.1,329.7 199.6,331.1 200.1,332.5 200.5,334.0 201.0,335.4 201.4,336.9 201.8,338.3 202.3,339.8 202.7,341.3 203.1,342.8 203.5,344.2 204.0,345.8 204.4,347.3 204.8,348.8 205.2,350.3 205.6,351.8 206.0,353.3 206.4,354.8 206.9,356.3 207.3,357.8 207.8,359.3 208.3,360.7 208.8,362.2 209.4,363.6 209.9,364.9 210.6,366.3 211.2,367.6 211.9,368.8 212.7,370.0 213.4,371.2 214.3,372.3 215.2,373.4 216.1,374.4 217.1,375.4 218.2,376.3 219.3,377.2 220.5,377.9 221.7,378.7 223.0,379.4 224.3,380.0 225.7,380.5 227.0,381.1 228.5,381.5 229.9,382.0 231.4,382.4 232.8,382.7 234.3,383.0 235.8,383.2 237.3,383.4 238.9,383.6 240.4,383.7 241.9,383.8 243.4,383.9 244.9,383.9 246.4,383.9 247.9,383.9 249.4,384.0 250.9,384.0 252.4,384.1 253.9,384.2 255.4,384.3 256.8,384.5 258.3,384.8 259.8,385.1 261.3,385.4 262.7,385.7 264.2,385.9 265.7,386.2 267.1,386.3 268.6,386.3 270.0,386.3 271.5,386.2 272.9,386.0 274.3,385.8 275.7,385.5 277.1,385.1 278.5,384.7 279.9,384.3 281.2,383.8 282.6,383.3 283.9,382.7 285.2,382.2 286.6,381.5 287.9,380.9 289.1,380.2 290.4,379.5 291.7,378.8 293.0,378.0 294.2,377.3 295.5,376.5 296.7,375.7 297.9,374.8 299.2,374.0 300.4,373.1 301.6,372.3 302.9,371.4 304.1,370.5 305.3,369.6 306.6,368.7 307.8,367.8 309.0,366.9 310.2,366.0 311.5,365.1 312.7,364.2 314.0,363.4 315.2,362.5 316.5,361.6 317.7,360.8 319.0,359.9 320.3,359.1 321.6,358.3 322.8,357.5 324.1,356.7 325.5,356.0 326.8,355.2 328.1,354.5 329.4,353.8 330.8,353.1 332.1,352.5 333.5,351.8 334.8,351.2 336.2,350.6 337.6,350.0 338.9,349.4 340.3,348.8 341.7,348.3 343.1,347.8 344.5,347.3 345.9,346.8 347.3,346.3 348.7,345.9 350.1,345.5 351.6,345.0 353.0,344.7 354.4,344.3 355.9,344.0 357.3,343.6 358.8,343.3 360.2,343.0 361.6,342.8 363.1,342.5 364.6,342.3 366.0,342.1 367.5,342.0 368.9,341.8 370.4,341.7 371.9,341.6 373.4,341.5 374.8,341.4 376.3,341.4 377.8,341.3 379.2,341.4 380.7,341.4 382.2,341.4 383.7,341.5 385.2,341.6 386.6,341.7 388.1,341.9 389.6,342.0 391.1,342.2 392.6,342.4 394.1,342.6 395.5,342.8 397.0,343.1 398.5,343.3 400.0,343.6 401.5,343.9 403.0,344.1 404.4,344.4 405.9,344.7 407.4,345.1 408.9,345.4 410.4,345.7 411.9,346.1 413.3,346.4 414.8,346.7 416.3,347.1 417.8,347.4 419.3,347.8 420.8,348.1 422.2,348.5 423.7,348.8 425.2,349.2 426.7,349.5 428.1,349.8 429.6,350.2 431.1,350.5 432.6,350.8 434.0,351.1 435.5,351.4 437.0,351.7 438.4,351.9 439.9,352.2 441.4,352.5 442.8,352.7 444.3,353.0 445.8,353.2 447.3,353.4 448.7,353.6 450.2,353.8 451.7,354.0 453.1,354.2 454.6,354.3 456.1,354.5 457.6,354.6 459.0,354.7 460.5,354.8 462.0,354.9 463.5,355.0 465.0,355.0 466.4,355.1 467.9,355.1 469.4,355.2 470.9,355.2 472.4,355.2 473.9,355.3 475.4,355.4 476.9,355.4 478.4,355.5 479.9,355.7 481.4,355.8 482.9,356.0 484.3,356.2 485.8,356.5 487.3,356.8 488.8,357.2 490.3,357.6 491.7,358.0 493.2,358.5 494.7,359.0 496.2,359.5 497.6,360.0 499.1,360.5 500.5,361.0 502.0,361.5 503.5,361.9 504.9,362.4 506.4,362.8 507.8,363.2 509.3,363.5 510.7,363.8 512.2,364.0 513.6,364.1 515.0,364.2 516.5,364.2 517.9,364.2 519.3,364.0 520.8,363.9 522.2,363.6 523.6,363.3 525.0,363.0 526.4,362.6 527.8,362.1 529.2,361.7 530.6,361.1 532.0,360.6 533.3,360.0 534.7,359.4 536.1,358.7 537.4,358.1 538.7,357.4 540.1,356.7 541.4,356.0 542.7,355.2 544.0,354.5 545.3,353.7 546.6,353.0 547.9,352.2 549.2,351.4 550.4,350.6 551.7,349.8 552.9,348.9 554.2,348.1 555.4,347.3 556.7,346.4 557.9,345.6 559.1,344.7 560.3,343.8 561.6,342.9 562.8,342.0 564.0,341.2 565.2,340.3 566.4,339.4 567.6,338.5 568.8,337.6 570.0,336.7 571.2,335.8 572.4,334.8 573.6,333.9 574.8,333.0 576.0,332.1 577.2,331.2 578.4,330.3 579.6,329.4 580.8,328.5 582.0,327.6 583.2,326.7 584.4,325.8 585.5,324.9 586.7,324.0 587.9,323.1 589.0,322.2 590.1,321.2 591.2,320.2 592.3,319.3 593.4,318.3 594.4,317.2 595.4,316.2 596.4,315.1 597.3,314.0 598.2,312.9 599.1,311.8 600.1,310.6 601.0,309.5 601.9,308.4 602.9,307.3 603.9,306.3 604.9,305.2 606.0,304.2 607.0,303.2 608.1,302.2 609.2,301.2 610.3,300.3 611.5,299.3 612.6,298.4 613.8,297.5 615.0,296.6 616.2,295.7 617.4,294.8 618.7,293.9 619.9,293.1 621.2,292.2 622.4,291.4 623.7,290.6 624.9,289.7 626.2,288.9 627.5,288.1 628.8,287.3 630.1,286.5 631.4,285.7 632.6,284.9 633.9,284.1 635.2,283.2 636.4,282.4 637.7,281.6 638.9,280.7 640.2,279.9 641.4,279.0 642.6,278.1 643.7,277.2 644.9,276.3 646.0,275.3 647.2,274.4 648.3,273.4 649.3,272.3 650.4,271.3 651.4,270.2 652.3,269.1 653.3,268.0 654.2,266.8 655.1,265.6 656.0,264.4 656.9,263.2 657.8,262.0 658.7,260.8 659.6,259.6 660.5,258.4 661.5,257.3 662.4,256.1 663.4,255.0 664.4,253.9 665.4,252.8 666.5,251.8 667.6,250.8 668.7,249.8 669.9,248.9 671.0,248.0 672.2,247.0 673.4,246.1 674.6,245.2 675.8,244.3 677.0,243.4 678.2,242.5 679.3,241.6 680.5,240.7 681.7,239.7 682.8,238.8 683.9,237.8 685.0,236.9 686.2,235.9 687.3,234.9 688.4,233.9 689.4,232.9 690.5,231.9 691.6,230.9 692.7,229.9 693.8,228.9 694.9,227.9 695.9,226.8 697.0,225.8 698.1,224.8 699.2,223.8 700.3,222.8 701.4,221.8 702.5,220.8 703.6,219.8 704.7,218.8 705.8,217.9 706.9,216.9 708.1,215.9 709.2,215.0 710.4,214.1 711.5,213.1 712.7,212.2 713.9,211.3 715.1,210.4 716.3,209.5 717.6,208.6 718.8,207.8 720.0,206.9 721.2,206.0 722.5,205.2 723.7,204.3 725.0,203.5 726.2,202.6 727.5,201.7 728.7,200.9 729.9,200.0 731.2,199.2 732.4,198.3 733.6,197.5 734.8,196.6 736.1,195.7 737.3,194.8 738.5,194.0 739.6,193.1 740.8,192.2 742.0,191.3 743.2,190.4 744.3,189.5 745.5,188.7 746.7,187.9 748.0,187.1 749.2,186.4 750.5,185.7 751.8,185.0 753.1,184.4 754.5,183.8 755.8,183.2 757.1,182.6 758.5,182.0 759.8,181.4 761.2,180.8 762.5,180.1 763.8,179.4 765.1,178.7 766.4,178.0 767.7,177.3 769.0,176.5 770.3,175.7 771.6,174.9 772.8,174.1 774.1,173.3 775.4,172.5 776.6,171.7 777.9,170.8 779.2,170.0 780.4,169.2 781.7,168.4 783.0,167.6 784.3,166.8 785.6,166.1 786.9,165.3 788.2,164.6 789.5,163.9 790.9,163.2 792.2,162.6 793.5,161.9 794.9,161.3 796.3,160.7 797.6,160.1 799.0,159.6 800.4,159.0 801.8,158.5 803.2,158.0 804.6,157.4 806.0,156.9 807.4,156.4 808.8,156.0 810.2,155.5 811.7,155.0 813.1,154.5 814.5,154.1 816.0,153.6 817.4,153.2 818.8,152.7 820.2,152.3 821.7,151.8 823.1,151.4 824.5,150.9 826.0,150.5 827.4,150.0 828.8,149.6 830.3,149.1 831.7,148.7 833.1,148.2 834.5,147.7 836.0,147.2 837.4,146.7 838.8,146.3 840.2,145.8 841.6,145.3 843.0,144.8 844.4,144.3 845.8,143.7 847.2,143.2 848.7,142.7 850.1,142.2 851.5,141.7 852.9,141.2 854.3,140.6 855.7,140.1 857.1,139.6 858.5,139.0 859.9,138.5 861.3,138.0 862.6,137.4 864.0,136.9 865.4,136.3 866.8,135.8 868.2,135.2 869.6,134.7 871.0,134.1 872.4,133.6 873.8,133.0 875.2,132.5 876.6,131.9 878.0,131.4 879.4,130.8 880.7,130.3 882.1,129.7 883.5,129.2 884.9,128.6 886.3,128.1 887.7,127.5 889.1,127.0 890.5,126.4 891.9,125.9 893.3,125.3 894.7,124.8 896.1,124.2 897.5,123.7 898.9,123.1 900.3,122.6 901.7,122.1 903.1,121.5 904.5,121.0 905.9,120.5 907.3,119.9 908.7,119.4 910.1,118.9 911.5,118.4 912.9,117.8" fill="none" stroke="#00ffff" stroke-width="5.2" stroke-linejoin="round" stroke-linecap="round"/>
<path d="M148.3,160.8 148.8,162.1 149.3,163.5 149.8,164.9 150.2,166.3 150.7,167.7 151.1,169.1 151.6,170.5 152.0,172.0 152.5,173.4 152.9,174.8 153.3,176.2 153.8,177.6 154.2,179.0 154.6,180.5 155.1,181.9 155.5,183.3 155.9,184.8 156.3,186.2 156.8,187.6 157.2,189.1 157.6,190.5 158.0,191.9 158.4,193.4 158.8,194.8 159.2,196.3 159.7,197.7 160.1,199.2 160.5,200.6 160.9,202.1 161.3,203.5 161.7,205.0 162.1,206.4 162.5,207.9 162.9,209.3 163.3,210.8 163.8,212.2 164.2,213.7 164.6,215.1 165.0,216.6 165.4,218.0 165.8,219.5 166.2,220.9 166.7,222.4 167.1,223.8 167.5,225.3 167.9,226.7 168.4,228.2 168.8,229.6 169.2,231.0 169.7,232.5 170.1,233.9 170.5,235.4 171.0,236.8 171.4,238.2 171.9,239.7 172.3,241.1 172.8,242.5 173.3,244.0 173.7,245.4 174.2,246.8 174.7,248.3 175.2,249.7 175.6,251.1 176.1,252.5 176.6,253.9 177.1,255.3 177.6,256.7 178.1,258.2 178.6,259.6 179.2,261.0 179.7,262.4 180.2,263.7 180.8,265.1 181.3,266.5 181.8,267.9 182.4,269.3 182.9,270.7 183.5,272.1 184.1,273.4 184.6,274.8 185.2,276.2 185.8,277.5 186.3,278.9 186.9,280.3 187.5,281.6 188.1,283.0 188.7,284.4 189.3,285.7 189.9,287.1 190.5,288.5 191.0,289.8 191.6,291.2 192.2,292.5 192.8,293.9 193.4,295.2 194.0,296.6 194.6,297.9 195.3,299.3 195.9,300.7 196.5,302.0 197.1,303.4 197.7,304.7 198.3,306.1 198.9,307.4 199.5,308.8 200.1,310.2 200.7,311.5 201.3,312.9 201.9,314.2 202.5,315.6 203.1,317.0 203.6,318.3 204.2,319.7 204.8,321.1 205.4,322.4 206.0,323.8 206.6,325.2 207.1,326.5 207.7,327.9 208.3,329.3 208.8,330.7 209.4,332.1 210.0,333.4 210.5,334.8 211.1,336.2 211.6,337.6 212.1,339.0 212.7,340.4 213.2,341.8 213.7,343.2 214.2,344.6 214.7,346.1 215.3,347.5 215.8,348.9 216.2,350.3 216.7,351.8 217.2,353.2 217.7,354.6 218.2,356.1 218.6,357.5 219.1,359.0 219.5,360.4 220.0,361.9 220.4,363.3 220.8,364.8 221.3,366.2 221.7,367.7 222.1,369.2 222.5,370.7 222.9,372.1 223.4,373.6 223.8,375.1 224.2,376.5 224.6,378.0 225.0,379.5 225.4,381.0 225.9,382.4 226.3,383.9 226.7,385.4 227.1,386.8 227.6,388.3 228.0,389.8 228.4,391.2 228.9,392.7 229.3,394.1 229.8,395.6 230.2,397.0 230.7,398.5 231.1,399.9 231.6,401.3 232.1,402.8 232.6,404.2 233.1,405.6 233.6,407.0 234.1,408.4 234.7,409.8 235.2,411.2 235.8,412.6 236.3,414.0 236.9,415.4 237.5,416.7 238.1,418.1 238.7,419.5 239.3,420.8 240.0,422.1 240.6,423.5 241.3,424.8 242.0,426.1 242.7,427.4 243.4,428.7 244.1,429.9 244.9,431.2 245.7,432.5 246.4,433.7 247.3,434.9 248.1,436.2 248.9,437.4 249.8,438.6 250.7,439.7 251.6,440.9 252.5,442.1 253.5,443.2 254.5,444.3 255.4,445.5 256.5,446.6 257.5,447.6 258.6,448.7 259.7,449.8 260.8,450.8 261.9,451.8 263.1,452.8 264.3,453.7 265.5,454.6 266.7,455.5 268.0,456.2 269.3,456.9 270.5,457.6 271.9,458.1 273.2,458.6 274.5,459.0 275.9,459.2 277.3,459.4 278.6,459.5 280.0,459.5 281.4,459.3 282.8,459.1 284.2,458.9 285.5,458.5 286.9,458.1 288.2,457.6 289.5,457.1 290.8,456.5 292.0,455.8 293.3,455.1 294.5,454.4 295.7,453.6 296.8,452.7 298.0,451.9 299.1,450.9 300.2,450.0 301.3,449.0 302.4,447.9 303.5,446.9 304.5,445.8 305.6,444.6 306.6,443.5 307.6,442.3 308.6,441.1 309.6,439.9 310.6,438.7 311.5,437.4 312.5,436.1 313.5,434.9 314.4,433.6 315.4,432.3 316.3,431.0 317.2,429.7 318.2,428.4 319.1,427.0 320.0,425.7 321.0,424.4 321.9,423.2 322.8,421.9 323.8,420.6 324.7,419.3 325.6,418.1 326.6,416.9 327.5,415.7 328.5,414.5 329.4,413.3 330.4,412.2 331.4,411.1 332.3,409.9 333.3,408.9 334.3,407.8 335.3,406.7 336.3,405.7 337.3,404.6 338.2,403.6 339.2,402.5 340.2,401.5 341.2,400.5 342.2,399.5 343.2,398.5 344.2,397.4 345.2,396.4 346.2,395.4 347.2,394.3 348.2,393.3 349.2,392.2 350.2,391.1 351.2,390.1 352.2,389.0 353.2,387.9 354.1,386.7 355.1,385.6 356.1,384.4 357.1,383.3 358.1,382.1 359.0,381.0 360.0,379.8 361.0,378.7 362.0,377.5 363.0,376.4 364.0,375.3 365.1,374.2 366.1,373.1 367.1,372.0 368.2,370.9 369.3,369.8 370.4,368.8 371.5,367.8 372.6,366.8 373.7,365.9 374.9,365.0 376.0,364.1 377.2,363.3 378.5,362.5 379.7,361.7 381.0,361.0 382.2,360.3 383.6,359.7 384.9,359.1 386.3,358.5 387.6,358.0 389.0,357.5 390.4,357.1 391.9,356.6 393.3,356.2 394.8,355.8 396.2,355.5 397.7,355.1 399.2,354.8 400.7,354.4 402.1,354.1 403.6,353.8 405.1,353.4 406.6,353.1 408.1,352.7 409.5,352.3 411.0,352.0 412.5,351.6 413.9,351.1 415.3,350.7 416.8,350.2 418.2,349.7 419.6,349.2 421.0,348.7 422.4,348.2 423.8,347.6 425.1,347.0 426.5,346.5 427.9,345.9 429.2,345.3 430.6,344.7 432.0,344.0 433.3,343.4 434.7,342.8 436.0,342.1 437.4,341.5 438.7,340.9 440.1,340.2 441.4,339.6 442.8,338.9 444.1,338.3 445.5,337.6 446.8,337.0 448.2,336.4 449.6,335.8 450.9,335.1 452.3,334.5 453.7,333.9 455.0,333.3 456.4,332.8 457.8,332.2 459.2,331.6 460.6,331.1 462.0,330.6 463.3,330.1 464.7,329.6 466.2,329.1 467.6,328.7 469.0,328.3 470.4,327.8 471.8,327.5 473.3,327.1 474.7,326.8 476.1,326.5 477.6,326.2 479.0,325.9 480.5,325.7 482.0,325.5 483.4,325.4 484.9,325.2 486.4,325.2 487.8,325.1 489.3,325.1 490.8,325.1 492.3,325.2 493.8,325.3 495.3,325.4 496.8,325.6 498.3,325.8 499.8,326.0 501.3,326.3 502.8,326.6 504.3,326.9 505.8,327.3 507.3,327.6 508.8,328.0 510.3,328.3 511.8,328.6 513.3,329.0 514.8,329.3 516.3,329.6 517.8,329.8 519.3,330.0 520.7,330.2 522.2,330.4 523.7,330.5 525.1,330.5 526.6,330.5 528.1,330.5 529.5,330.4 531.0,330.3 532.4,330.1 533.8,329.9 535.3,329.7 536.7,329.4 538.1,329.1 539.5,328.7 540.9,328.3 542.3,327.9 543.7,327.5 545.1,327.0 546.5,326.5 547.9,325.9 549.2,325.4 550.6,324.8 552.0,324.2 553.3,323.6 554.7,322.9 556.0,322.3 557.4,321.6 558.7,320.9 560.1,320.1 561.4,319.4 562.7,318.7 564.0,317.9 565.3,317.1 566.6,316.4 567.9,315.6 569.2,314.8 570.5,314.0 571.8,313.2 573.1,312.4 574.4,311.5 575.6,310.7 576.9,309.9 578.2,309.1 579.4,308.3 580.7,307.4 581.9,306.6 583.2,305.8 584.4,304.9 585.7,304.1 586.9,303.3 588.1,302.4 589.4,301.6 590.6,300.7 591.8,299.9 593.1,299.1 594.3,298.2 595.5,297.4 596.8,296.5 598.0,295.7 599.2,294.9 600.5,294.0 601.7,293.2 602.9,292.4 604.2,291.5 605.4,290.7 606.7,289.9 607.9,289.0 609.1,288.2 610.4,287.4 611.7,286.6 612.9,285.8 614.2,285.0 615.4,284.2 616.7,283.4 618.0,282.6 619.2,281.8 620.5,281.0 621.8,280.2 623.1,279.5 624.4,278.7 625.7,277.9 626.9,277.1 628.2,276.3 629.5,275.5 630.8,274.8 632.1,274.0 633.3,273.1 634.6,272.3 635.8,271.5 637.1,270.7 638.3,269.8 639.6,269.0 640.8,268.1 642.0,267.2 643.2,266.3 644.4,265.4 645.6,264.5 646.8,263.6 647.9,262.7 649.1,261.8 650.3,260.8 651.4,259.9 652.6,258.9 653.7,258.0 654.9,257.0 656.0,256.1 657.2,255.1 658.3,254.2 659.5,253.2 660.6,252.2 661.8,251.3 662.9,250.3 664.1,249.4 665.3,248.4 666.4,247.5 667.6,246.6 668.8,245.6 670.0,244.7 671.1,243.8 672.3,242.9 673.5,241.9 674.7,241.0 675.9,240.1 677.1,239.2 678.3,238.4 679.5,237.5 680.8,236.6 682.0,235.7 683.2,234.9 684.4,234.0 685.7,233.1 686.9,232.3 688.1,231.4 689.4,230.6 690.6,229.8 691.9,229.0 693.1,228.2 694.4,227.3 695.7,226.5 696.9,225.8 698.2,225.0 699.5,224.2 700.7,223.4 702.0,222.7 703.3,221.9 704.6,221.2 705.9,220.4 707.2,219.7 708.5,218.9 709.8,218.2 711.1,217.5 712.4,216.7 713.7,216.0 715.0,215.2 716.2,214.5 717.5,213.7 718.8,213.0 720.1,212.2 721.4,211.5 722.6,210.7 723.9,209.9 725.2,209.1 726.4,208.3 727.6,207.5 728.9,206.6 730.1,205.8 731.3,204.9 732.5,204.1 733.7,203.2 734.9,202.3 736.1,201.4 737.3,200.4 738.4,199.5 739.6,198.6 740.8,197.6 741.9,196.6 743.1,195.7 744.2,194.7 745.3,193.7 746.5,192.7 747.6,191.7 748.7,190.7 749.8,189.7 751.0,188.7 752.1,187.7 753.2,186.6 754.3,185.6 755.4,184.6 756.5,183.6 757.6,182.5 758.7,181.5 759.8,180.5 761.0,179.4 762.1,178.4 763.2,177.4 764.3,176.4 765.4,175.4 766.5,174.4 767.7,173.4 768.8,172.4 769.9,171.4 771.0,170.4 772.2,169.4 773.3,168.4 774.5,167.5 775.6,166.5 776.8,165.6 777.9,164.7 779.1,163.7 780.3,162.8 781.5,161.9 782.7,161.1 783.9,160.2 785.1,159.3 786.3,158.5 787.5,157.7 788.8,156.9 790.0,156.1 791.3,155.3 792.5,154.5 793.8,153.8 795.1,153.0 796.4,152.3 797.7,151.6 799.0,150.9 800.3,150.2 801.6,149.5 802.9,148.9 804.3,148.2 805.6,147.6 806.9,146.9 808.3,146.3 809.6,145.7 811.0,145.1 812.4,144.5 813.7,143.9 815.1,143.4 816.5,142.8 817.9,142.2 819.3,141.7 820.7,141.2 822.1,140.6 823.5,140.1 824.9,139.6 826.3,139.1 827.7,138.6 829.2,138.1 830.6,137.6 832.0,137.1 833.4,136.6 834.9,136.1 836.3,135.7 837.7,135.2 839.2,134.7 840.6,134.3 842.1,133.8 843.5,133.4 845.0,132.9 846.4,132.5 847.9,132.0 849.3,131.6 850.8,131.1 852.2,130.7 853.7,130.2 855.1,129.8 856.6,129.4 858.0,128.9 859.5,128.5 860.9,128.1 862.4,127.6 863.8,127.2 865.3,126.7 866.7,126.3 868.1,125.8 869.6,125.4 871.0,124.9 872.5,124.5 873.9,124.0 875.3,123.6 876.8,123.1 878.2,122.6 879.6,122.2 881.1,121.7 882.5,121.2 883.9,120.7 885.3,120.2 886.7,119.7 888.1,119.2 889.5,118.7 890.9,118.2 892.3,117.7 893.7,117.1 895.1,116.6 896.4,116.0 897.8,115.5 899.2,114.9 900.5,114.3 901.9,113.8 903.2,113.2 904.6,112.6 905.9,111.9 907.3,111.3 908.6,110.7 909.9,110.0 911.2,109.4 912.5,108.7" fill="none" stroke="#006e00" stroke-width="5" stroke-linejoin="round" stroke-linecap="round"/>
<path d="M149.4,191.8 149.8,193.2 150.2,194.7 150.6,196.1 151.0,197.5 151.4,199.0 151.8,200.4 152.1,201.9 152.5,203.3 152.8,204.8 153.2,206.2 153.5,207.7 153.8,209.2 154.1,210.6 154.4,212.1 154.7,213.6 155.0,215.0 155.3,216.5 155.6,218.0 155.8,219.4 156.1,220.9 156.4,222.4 156.6,223.9 156.9,225.3 157.1,226.8 157.4,228.3 157.6,229.8 157.8,231.3 158.0,232.7 158.3,234.2 158.5,235.7 158.7,237.2 158.9,238.7 159.1,240.2 159.3,241.7 159.5,243.2 159.7,244.7 159.9,246.1 160.1,247.6 160.3,249.1 160.5,250.6 160.7,252.1 160.9,253.6 161.1,255.1 161.3,256.6 161.5,258.1 161.7,259.6 161.9,261.1 162.1,262.6 162.3,264.1 162.5,265.6 162.7,267.0 162.9,268.5 163.1,270.0 163.3,271.5 163.5,273.0 163.8,274.5 164.0,276.0 164.2,277.5 164.4,279.0 164.7,280.4 164.9,281.9 165.1,283.4 165.4,284.9 165.6,286.4 165.9,287.8 166.1,289.3 166.4,290.8 166.7,292.3 166.9,293.7 167.2,295.2 167.5,296.7 167.8,298.2 168.1,299.6 168.4,301.1 168.7,302.6 169.0,304.0 169.3,305.5 169.6,306.9 170.0,308.4 170.3,309.9 170.6,311.3 171.0,312.8 171.3,314.2 171.7,315.7 172.0,317.1 172.4,318.6 172.7,320.0 173.1,321.5 173.5,322.9 173.8,324.4 174.2,325.8 174.6,327.3 175.0,328.7 175.3,330.2 175.7,331.6 176.1,333.1 176.5,334.5 176.9,336.0 177.3,337.4 177.7,338.9 178.1,340.3 178.5,341.7 178.9,343.2 179.3,344.6 179.6,346.1 180.0,347.5 180.4,349.0 180.8,350.4 181.2,351.8 181.6,353.3 182.0,354.7 182.4,356.2 182.8,357.6 183.2,359.1 183.6,360.5 184.0,362.0 184.4,363.4 184.8,364.9 185.2,366.3 185.6,367.8 186.0,369.2 186.4,370.7 186.8,372.1 187.2,373.6 187.5,375.0 187.9,376.5 188.3,377.9 188.7,379.4 189.0,380.8 189.4,382.3 189.8,383.7 190.2,385.2 190.5,386.6 190.9,388.1 191.3,389.6 191.7,391.0 192.0,392.5 192.4,393.9 192.8,395.4 193.1,396.8 193.5,398.3 193.9,399.7 194.2,401.2 194.6,402.7 195.0,404.1 195.4,405.6 195.7,407.0 196.1,408.5 196.5,409.9 196.9,411.4 197.3,412.8 197.6,414.3 198.0,415.7 198.4,417.2 198.8,418.6 199.2,420.1 199.6,421.5 200.0,423.0 200.4,424.4 200.8,425.9 201.2,427.3 201.6,428.8 202.0,430.2 202.4,431.7 202.9,433.1 203.3,434.5 203.7,436.0 204.1,437.4 204.6,438.8 205.0,440.3 205.5,441.7 205.9,443.1 206.4,444.6 206.8,446.0 207.3,447.4 207.8,448.8 208.2,450.2 208.7,451.7 209.2,453.1 209.7,454.5 210.2,455.9 210.7,457.3 211.2,458.7 211.7,460.1 212.3,461.5 212.8,462.9 213.3,464.3 213.9,465.7 214.4,467.1 215.0,468.5 215.5,469.9 216.1,471.3 216.7,472.7 217.3,474.0 217.9,475.4 218.5,476.8 219.1,478.2 219.7,479.5 220.3,480.9 221.0,482.3 221.6,483.6 222.3,485.0 223.0,486.3 223.7,487.6 224.4,488.9 225.1,490.3 225.8,491.5 226.6,492.8 227.3,494.1 228.1,495.4 228.9,496.6 229.7,497.8 230.6,499.0 231.4,500.2 232.3,501.4 233.2,502.5 234.1,503.6 235.1,504.8 236.0,505.9 237.0,507.0 238.0,508.1 239.0,509.1 240.0,510.2 241.0,511.3 242.0,512.4 243.1,513.5 244.1,514.6 245.1,515.8 246.2,516.9 247.2,518.1 248.2,519.2 249.2,520.4 250.2,521.7 251.3,522.9 252.3,524.1 253.3,525.3 254.3,526.6 255.3,527.8 256.4,529.0 257.4,530.1 258.5,531.2 259.6,532.3 260.7,533.4 261.8,534.4 262.9,535.3 264.0,536.2 265.2,537.0 266.4,537.7 267.6,538.4 268.9,539.0 270.1,539.5 271.4,539.9 272.7,540.2 274.0,540.4 275.4,540.6 276.7,540.6 278.1,540.5 279.4,540.4 280.8,540.1 282.2,539.8 283.5,539.3 284.9,538.8 286.3,538.3 287.6,537.6 289.0,536.9 290.3,536.2 291.7,535.4 293.0,534.6 294.3,533.7 295.6,532.8 296.9,531.9 298.2,530.9 299.5,530.0 300.7,529.0 301.9,528.1 303.1,527.1 304.3,526.1 305.4,525.1 306.6,524.1 307.7,523.0 308.8,522.0 309.9,520.9 311.0,519.9 312.1,518.8 313.1,517.7 314.2,516.7 315.2,515.6 316.2,514.5 317.2,513.3 318.2,512.2 319.2,511.1 320.2,509.9 321.1,508.8 322.1,507.6 323.0,506.5 323.9,505.3 324.8,504.1 325.8,503.0 326.7,501.8 327.5,500.6 328.4,499.4 329.3,498.2 330.2,497.0 331.0,495.8 331.9,494.5 332.7,493.3 333.6,492.1 334.4,490.9 335.2,489.6 336.1,488.4 336.9,487.2 337.7,485.9 338.5,484.7 339.3,483.4 340.1,482.2 341.0,480.9 341.8,479.7 342.6,478.4 343.4,477.1 344.2,475.9 345.0,474.6 345.8,473.4 346.6,472.1 347.4,470.9 348.2,469.6 349.0,468.3 349.8,467.1 350.6,465.8 351.4,464.6 352.3,463.3 353.1,462.1 353.9,460.8 354.7,459.5 355.5,458.3 356.3,457.0 357.2,455.8 358.0,454.5 358.8,453.3 359.6,452.0 360.5,450.8 361.3,449.6 362.1,448.3 363.0,447.1 363.8,445.9 364.7,444.6 365.5,443.4 366.4,442.2 367.3,440.9 368.1,439.7 369.0,438.5 369.9,437.3 370.7,436.1 371.6,434.9 372.5,433.7 373.4,432.5 374.3,431.3 375.2,430.1 376.1,428.9 377.0,427.7 377.9,426.5 378.9,425.4 379.8,424.2 380.7,423.0 381.7,421.9 382.6,420.7 383.6,419.6 384.6,418.5 385.5,417.3 386.5,416.2 387.5,415.1 388.5,413.9 389.5,412.8 390.5,411.7 391.5,410.6 392.6,409.5 393.6,408.5 394.6,407.4 395.7,406.3 396.7,405.2 397.8,404.1 398.8,403.1 399.9,402.0 401.0,400.9 402.0,399.9 403.1,398.8 404.2,397.8 405.2,396.7 406.3,395.6 407.4,394.6 408.4,393.5 409.5,392.4 410.6,391.4 411.6,390.3 412.7,389.2 413.8,388.2 414.8,387.1 415.9,386.0 417.0,384.9 418.0,383.9 419.1,382.8 420.2,381.8 421.3,380.7 422.4,379.7 423.5,378.7 424.6,377.7 425.7,376.8 426.8,375.9 428.0,375.0 429.2,374.1 430.4,373.3 431.6,372.5 432.8,371.7 434.1,371.0 435.4,370.3 436.7,369.7 438.1,369.1 439.4,368.5 440.8,368.0 442.2,367.5 443.6,367.0 445.1,366.6 446.5,366.2 448.0,365.7 449.4,365.3 450.9,364.9 452.3,364.5 453.8,364.1 455.3,363.7 456.7,363.3 458.2,362.9 459.6,362.4 461.0,362.0 462.5,361.5 463.9,361.0 465.3,360.4 466.6,359.9 468.0,359.3 469.4,358.8 470.8,358.2 472.1,357.6 473.5,357.1 474.9,356.5 476.2,356.0 477.6,355.5 479.0,355.0 480.4,354.5 481.8,354.0 483.2,353.6 484.6,353.2 486.0,352.8 487.4,352.5 488.9,352.2 490.3,351.9 491.8,351.6 493.2,351.4 494.7,351.2 496.2,351.0 497.7,350.8 499.2,350.7 500.7,350.6 502.2,350.5 503.7,350.3 505.2,350.2 506.7,350.1 508.2,349.9 509.7,349.8 511.2,349.6 512.6,349.4 514.1,349.1 515.5,348.8 517.0,348.4 518.4,348.1 519.8,347.6 521.2,347.2 522.6,346.7 524.0,346.2 525.4,345.7 526.8,345.2 528.2,344.7 529.5,344.1 530.9,343.5 532.3,342.9 533.6,342.3 535.0,341.7 536.4,341.1 537.7,340.6 539.1,340.0 540.5,339.4 541.9,338.8 543.2,338.2 544.6,337.7 546.0,337.1 547.4,336.6 548.8,336.0 550.2,335.5 551.6,334.9 553.0,334.4 554.4,333.9 555.8,333.3 557.2,332.8 558.6,332.3 560.0,331.7 561.4,331.2 562.8,330.7 564.2,330.1 565.6,329.6 567.0,329.1 568.4,328.5 569.8,328.0 571.2,327.4 572.6,326.9 574.0,326.4 575.4,325.8 576.8,325.2 578.2,324.7 579.5,324.1 580.9,323.5 582.3,322.9 583.6,322.3 585.0,321.7 586.3,321.1 587.7,320.5 589.0,319.9 590.4,319.2 591.7,318.6 593.0,317.9 594.3,317.3 595.7,316.6 597.0,315.9 598.3,315.2 599.6,314.5 600.9,313.8 602.2,313.1 603.4,312.4 604.7,311.6 606.0,310.9 607.3,310.2 608.6,309.4 609.8,308.7 611.1,307.9 612.4,307.2 613.6,306.4 614.9,305.6 616.2,304.9 617.4,304.1 618.7,303.3 620.0,302.5 621.2,301.7 622.5,300.9 623.8,300.1 625.0,299.3 626.3,298.5 627.6,297.7 628.8,296.9 630.1,296.1 631.4,295.3 632.6,294.5 633.9,293.7 635.2,292.9 636.5,292.1 637.8,291.3 639.0,290.5 640.3,289.7 641.6,288.9 642.9,288.1 644.1,287.2 645.4,286.4 646.6,285.5 647.9,284.7 649.1,283.8 650.3,283.0 651.6,282.1 652.8,281.2 653.9,280.2 655.1,279.3 656.3,278.4 657.4,277.4 658.5,276.4 659.6,275.4 660.7,274.4 661.7,273.4 662.8,272.3 663.8,271.2 664.8,270.1 665.8,269.0 666.7,267.9 667.7,266.8 668.7,265.7 669.6,264.6 670.6,263.4 671.6,262.3 672.6,261.2 673.6,260.1 674.6,259.1 675.6,258.0 676.6,257.0 677.7,255.9 678.8,254.9 679.9,254.0 681.0,253.0 682.1,252.1 683.3,251.2 684.5,250.3 685.7,249.4 686.9,248.5 688.1,247.7 689.3,246.8 690.5,245.9 691.7,245.1 692.9,244.2 694.2,243.4 695.4,242.5 696.6,241.7 697.8,240.9 699.1,240.0 700.3,239.2 701.5,238.3 702.8,237.5 704.0,236.7 705.2,235.8 706.5,235.0 707.7,234.1 708.9,233.3 710.2,232.5 711.4,231.6 712.7,230.8 713.9,230.0 715.1,229.1 716.4,228.3 717.6,227.5 718.8,226.6 720.1,225.8 721.3,225.0 722.6,224.1 723.8,223.3 725.0,222.4 726.3,221.6 727.5,220.7 728.7,219.9 730.0,219.1 731.2,218.2 732.4,217.4 733.7,216.5 734.9,215.7 736.1,214.8 737.3,213.9 738.6,213.1 739.8,212.2 741.0,211.3 742.2,210.5 743.4,209.6 744.6,208.7 745.8,207.8 747.1,207.0 748.3,206.1 749.5,205.2 750.7,204.3 751.9,203.4 753.1,202.5 754.3,201.6 755.4,200.7 756.6,199.8 757.8,198.9 759.0,197.9 760.2,197.0 761.4,196.1 762.6,195.2 763.8,194.3 764.9,193.4 766.1,192.5 767.3,191.5 768.5,190.6 769.7,189.7 770.9,188.8 772.1,187.9 773.3,187.0 774.5,186.1 775.6,185.2 776.8,184.3 778.0,183.4 779.2,182.5 780.4,181.6 781.7,180.8 782.9,179.9 784.1,179.0 785.3,178.2 786.5,177.3 787.7,176.5 789.0,175.6 790.2,174.8 791.5,173.9 792.7,173.1 793.9,172.3 795.2,171.5 796.5,170.7 797.7,169.9 799.0,169.1 800.3,168.4 801.6,167.6 802.9,166.9 804.2,166.1 805.5,165.4 806.8,164.7 808.1,164.0 809.4,163.3 810.7,162.6 812.1,161.9 813.4,161.2 814.8,160.6 816.1,159.9 817.5,159.2 818.8,158.6 820.2,157.9 821.5,157.3 822.9,156.6 824.2,156.0 825.6,155.3 827.0,154.7 828.3,154.1 829.7,153.4 831.1,152.8 832.4,152.2 833.8,151.5 835.2,150.9 836.5,150.2 837.9,149.6 839.2,148.9 840.6,148.3 841.9,147.6 843.3,147.0 844.6,146.3 846.0,145.6 847.3,144.9 848.6,144.3 850.0,143.6 851.3,142.9 852.6,142.1 853.9,141.4 855.2,140.7 856.5,139.9 857.8,139.2 859.1,138.4 860.4,137.6 861.6,136.8 862.9,136.0 864.1,135.2 865.4,134.4 866.6,133.6 867.9,132.7 869.1,131.9 870.3,131.0 871.6,130.2 872.8,129.3 874.0,128.5 875.2,127.6 876.5,126.8 877.7,125.9 878.9,125.1 880.2,124.3 881.4,123.5 882.7,122.7 883.9,121.9 885.2,121.1 886.5,120.3 887.7,119.5 889.0,118.8 890.3,118.1 891.6,117.4 893.0,116.7 894.3,116.1 895.7,115.4 897.0,114.8 898.4,114.3 899.8,113.7 901.2,113.2 902.7,112.7 904.1,112.2 905.6,111.8 907.1,111.4 908.6,111.1 910.2,110.8 911.7,110.5 913.3,110.3" fill="none" stroke="#00ff00" stroke-width="5.2" stroke-linejoin="round" stroke-linecap="round"/>
<path d="M149.5,200.4 149.8,201.8 150.0,203.3 150.2,204.8 150.4,206.3 150.6,207.8 150.9,209.3 151.1,210.7 151.3,212.2 151.5,213.7 151.7,215.2 151.9,216.7 152.2,218.1 152.4,219.6 152.6,221.1 152.8,222.6 153.0,224.1 153.2,225.6 153.5,227.0 153.7,228.5 153.9,230.0 154.1,231.5 154.3,233.0 154.5,234.5 154.8,235.9 155.0,237.4 155.2,238.9 155.4,240.4 155.6,241.9 155.8,243.4 156.0,244.9 156.2,246.3 156.5,247.8 156.7,249.3 156.9,250.8 157.1,252.3 157.3,253.8 157.5,255.2 157.7,256.7 157.9,258.2 158.1,259.7 158.3,261.2 158.6,262.7 158.8,264.1 159.0,265.6 159.2,267.1 159.4,268.6 159.6,270.1 159.8,271.6 160.0,273.0 160.2,274.5 160.4,276.0 160.6,277.5 160.8,279.0 161.1,280.5 161.3,282.0 161.5,283.4 161.7,284.9 161.9,286.4 162.1,287.9 162.3,289.4 162.5,290.9 162.7,292.3 162.9,293.8 163.1,295.3 163.3,296.8 163.5,298.3 163.7,299.8 163.9,301.3 164.1,302.7 164.3,304.2 164.6,305.7 164.8,307.2 165.0,308.7 165.2,310.2 165.4,311.7 165.6,313.1 165.8,314.6 166.0,316.1 166.2,317.6 166.4,319.1 166.6,320.6 166.8,322.0 167.0,323.5 167.2,325.0 167.4,326.5 167.6,328.0 167.8,329.5 168.0,331.0 168.2,332.4 168.4,333.9 168.6,335.4 168.8,336.9 169.0,338.4 169.2,339.9 169.4,341.4 169.7,342.8 169.9,344.3 170.1,345.8 170.3,347.3 170.5,348.8 170.7,350.3 170.9,351.7 171.1,353.2 171.3,354.7 171.5,356.2 171.7,357.7 171.9,359.2 172.1,360.7 172.3,362.1 172.5,363.6 172.7,365.1 172.9,366.6 173.1,368.1 173.3,369.6 173.5,371.0 173.7,372.5 173.9,374.0 174.1,375.5 174.3,377.0 174.5,378.5 174.7,380.0 175.0,381.4 175.2,382.9 175.4,384.4 175.6,385.9 175.8,387.4 176.0,388.9 176.2,390.4 176.4,391.8 176.6,393.3 176.8,394.8 177.0,396.3 177.2,397.8 177.4,399.3 177.6,400.7 177.8,402.2 178.0,403.7 178.2,405.2 178.5,406.7 178.7,408.2 178.9,409.7 179.1,411.1 179.3,412.6 179.5,414.1 179.7,415.6 179.9,417.1 180.1,418.6 180.3,420.0 180.5,421.5 180.7,423.0 181.0,424.5 181.2,426.0 181.4,427.5 181.6,428.9 181.8,430.4 182.0,431.9 182.2,433.4 182.4,434.9 182.6,436.4 182.8,437.8 183.1,439.3 183.3,440.8 183.5,442.3 183.7,443.8 183.9,445.3 184.1,446.8 184.3,448.2 184.5,449.7 184.8,451.2 185.0,452.7 185.2,454.2 185.4,455.7 185.6,457.1 185.8,458.6 186.0,460.1 186.3,461.6 186.5,463.1 186.7,464.6 186.9,466.0 187.1,467.5 187.3,469.0 187.6,470.5 187.8,472.0 188.0,473.4 188.2,474.9 188.4,476.4 188.7,477.9 188.9,479.4 189.1,480.9 189.3,482.3 189.5,483.8 189.8,485.3 190.0,486.8 190.2,488.3 190.4,489.8 190.7,491.2 190.9,492.7 191.1,494.2 191.3,495.7 191.6,497.2 191.8,498.6 192.0,500.1 192.2,501.6 192.5,503.1 192.7,504.6 192.9,506.1 193.1,507.5 193.4,509.0 193.6,510.5 193.8,512.0 194.0,513.5 194.3,514.9 194.5,516.4 194.7,517.9 195.0,519.4 195.2,520.9 195.4,522.3 195.7,523.8 195.9,525.3 196.1,526.8 196.4,528.3 196.6,529.8 196.8,531.2 197.1,532.7 197.3,534.2 197.5,535.7 197.8,537.2 198.0,538.6 198.3,540.1 198.5,541.6 198.7,543.1 199.0,544.6 199.2,546.0 199.5,547.5 199.7,549.0 199.9,550.5 200.2,552.0 200.4,553.4 200.7,554.9 200.9,556.4 201.2,557.9 201.4,559.3 201.6,560.8 201.9,562.3 202.1,563.8 202.4,565.3 202.6,566.7 202.9,568.2 203.1,569.7 203.4,571.2 203.6,572.7 203.9,574.1 204.1,575.6 204.4,577.1 204.6,578.6 204.9,580.0 205.2,581.5 205.4,583.0 205.7,584.5 205.9,586.0 206.2,587.4 206.4,588.9 206.7,590.4 207.0,591.9 207.2,593.3 207.5,594.8 207.7,596.3 208.0,597.8 208.3,599.2 208.5,600.7 208.8,602.2 209.0,603.7 209.3,605.1 209.6,606.6 209.8,608.1 210.1,609.6 210.4,611.1 210.6,612.5 210.9,614.0 211.2,615.5 211.5,617.0 211.7,618.4 212.0,619.9 212.3,621.4 212.5,622.9 212.8,624.3 213.1,625.8 213.4,627.3 213.7,628.8 213.9,630.2 214.2,631.7 214.5,633.2 214.8,634.6 215.1,636.1 215.4,637.6 215.7,639.0 216.0,640.5 216.3,642.0 216.6,643.5 216.9,644.9 217.2,646.4 217.5,647.8 217.9,649.3 218.2,650.8 218.5,652.2 218.9,653.7 219.2,655.2 219.5,656.6 219.9,658.1 220.2,659.5 220.6,661.0 221.0,662.4 221.3,663.9 221.7,665.3 222.1,666.8 222.5,668.2 222.9,669.7 223.2,671.1 223.7,672.6 224.1,674.0 224.5,675.4 224.9,676.9 225.3,678.3 225.8,679.8 226.2,681.2 226.7,682.6 227.1,684.0 227.6,685.5 228.1,686.9 228.5,688.3 229.0,689.7 229.5,691.2 230.0,692.6 230.5,694.0 231.1,695.4 231.6,696.8 232.1,698.2 232.7,699.6 233.2,701.0 233.8,702.4 234.4,703.8 235.0,705.2 235.6,706.6 236.2,708.0 236.8,709.4 237.4,710.8 238.1,712.2 238.7,713.5 239.4,714.9 240.0,716.3 240.7,717.7 241.4,719.0 242.1,720.4 242.8,721.7 243.6,723.1 244.3,724.5 245.0,725.8 245.8,727.2 246.6,728.5 247.4,729.8 248.2,731.2 249.0,732.5 249.8,733.8 250.6,735.1 251.5,736.3 252.4,737.5 253.3,738.6 254.2,739.7 255.2,740.7 256.2,741.7 257.2,742.5 258.3,743.3 259.4,743.9 260.5,744.5 261.6,744.9 262.8,745.2 264.1,745.3 265.3,745.4 266.6,745.3 268.0,745.0 269.3,744.7 270.6,744.2 271.9,743.7 273.2,743.0 274.5,742.3 275.7,741.5 276.9,740.7 278.0,739.7 279.1,738.8 280.2,737.7 281.2,736.6 282.2,735.5 283.2,734.3 284.1,733.1 285.0,731.8 285.9,730.6 286.7,729.2 287.6,727.9 288.4,726.5 289.2,725.2 290.0,723.8 290.7,722.4 291.5,721.0 292.2,719.6 292.9,718.3 293.6,716.9 294.3,715.5 294.9,714.1 295.6,712.7 296.2,711.3 296.9,709.9 297.5,708.5 298.1,707.1 298.7,705.7 299.3,704.3 299.8,702.9 300.4,701.5 301.0,700.1 301.5,698.7 302.1,697.3 302.6,695.9 303.1,694.5 303.6,693.0 304.1,691.6 304.6,690.2 305.1,688.8 305.6,687.4 306.1,686.0 306.6,684.6 307.1,683.2 307.5,681.8 308.0,680.4 308.5,678.9 308.9,677.5 309.4,676.1 309.9,674.7 310.3,673.3 310.8,671.9 311.2,670.5 311.7,669.1 312.2,667.7 312.6,666.3 313.1,664.8 313.6,663.4 314.0,662.0 314.5,660.6 315.0,659.2 315.4,657.8 315.9,656.4 316.4,655.0 316.9,653.6 317.4,652.2 317.9,650.8 318.4,649.4 318.9,648.0 319.4,646.6 319.9,645.2 320.4,643.8 320.9,642.4 321.4,641.0 321.9,639.6 322.4,638.2 323.0,636.8 323.5,635.4 324.0,634.0 324.5,632.6 325.1,631.2 325.6,629.9 326.1,628.5 326.7,627.1 327.2,625.7 327.8,624.3 328.3,622.9 328.8,621.5 329.4,620.1 329.9,618.7 330.5,617.3 331.0,615.9 331.6,614.5 332.1,613.1 332.7,611.8 333.2,610.4 333.8,609.0 334.3,607.6 334.9,606.2 335.5,604.8 336.0,603.4 336.6,602.0 337.1,600.6 337.7,599.2 338.2,597.8 338.8,596.4 339.3,595.0 339.9,593.6 340.5,592.2 341.0,590.8 341.6,589.4 342.1,588.1 342.7,586.7 343.2,585.3 343.8,583.9 344.3,582.5 344.9,581.1 345.4,579.7 346.0,578.3 346.5,576.9 347.0,575.5 347.6,574.0 348.1,572.6 348.7,571.2 349.2,569.8 349.7,568.4 350.3,567.0 350.8,565.6 351.3,564.2 351.8,562.8 352.4,561.4 352.9,560.0 353.4,558.5 353.9,557.1 354.4,555.7 354.9,554.3 355.4,552.9 355.9,551.5 356.4,550.0 356.9,548.6 357.4,547.2 357.9,545.8 358.4,544.4 358.9,542.9 359.4,541.5 359.9,540.1 360.4,538.7 360.9,537.3 361.4,535.8 361.9,534.4 362.4,533.0 362.9,531.6 363.4,530.2 363.9,528.7 364.4,527.3 364.9,525.9 365.4,524.5 365.9,523.1 366.4,521.7 366.9,520.2 367.4,518.8 367.9,517.4 368.4,516.0 368.9,514.6 369.4,513.2 369.9,511.8 370.4,510.3 370.9,508.9 371.4,507.5 372.0,506.1 372.5,504.7 373.0,503.3 373.5,501.9 374.1,500.5 374.6,499.1 375.1,497.7 375.7,496.3 376.2,494.9 376.8,493.6 377.3,492.2 377.9,490.8 378.5,489.4 379.0,488.0 379.6,486.6 380.2,485.3 380.8,483.9 381.3,482.5 381.9,481.2 382.5,479.8 383.1,478.4 383.7,477.1 384.4,475.7 385.0,474.4 385.6,473.0 386.2,471.7 386.9,470.3 387.5,469.0 388.2,467.6 388.8,466.3 389.5,465.0 390.2,463.6 390.8,462.3 391.5,461.0 392.2,459.7 392.9,458.4 393.6,457.1 394.3,455.8 395.1,454.4 395.8,453.1 396.5,451.8 397.2,450.5 398.0,449.3 398.7,448.0 399.5,446.7 400.2,445.4 401.0,444.1 401.8,442.8 402.5,441.5 403.3,440.3 404.1,439.0 404.8,437.7 405.6,436.4 406.4,435.1 407.2,433.9 408.0,432.6 408.8,431.3 409.5,430.1 410.3,428.8 411.1,427.5 411.9,426.2 412.7,425.0 413.5,423.7 414.3,422.4 415.1,421.2 415.9,419.9 416.7,418.6 417.5,417.4 418.3,416.1 419.1,414.8 419.9,413.6 420.7,412.3 421.5,411.0 422.3,409.7 423.1,408.5 423.9,407.2 424.7,405.9 425.5,404.7 426.3,403.4 427.1,402.1 427.9,400.9 428.7,399.6 429.5,398.3 430.3,397.1 431.1,395.8 431.9,394.5 432.7,393.3 433.6,392.0 434.4,390.8 435.2,389.6 436.1,388.3 436.9,387.1 437.8,385.9 438.6,384.7 439.5,383.5 440.4,382.3 441.3,381.1 442.2,379.9 443.1,378.7 444.0,377.5 444.9,376.4 445.9,375.2 446.8,374.1 447.8,372.9 448.8,371.8 449.8,370.7 450.8,369.6 451.8,368.5 452.8,367.4 453.9,366.3 455.0,365.3 456.0,364.2 457.1,363.2 458.3,362.2 459.4,361.2 460.5,360.2 461.7,359.2 462.8,358.3 464.0,357.3 465.2,356.4 466.4,355.5 467.7,354.6 468.9,353.8 470.1,352.9 471.4,352.1 472.7,351.3 473.9,350.6 475.2,349.8 476.6,349.1 477.9,348.4 479.2,347.8 480.5,347.2 481.9,346.6 483.3,346.0 484.6,345.5 486.0,344.9 487.4,344.5 488.8,344.0 490.2,343.6 491.6,343.2 493.0,342.9 494.5,342.6 495.9,342.3 497.4,342.1 498.8,341.9 500.3,341.7 501.8,341.6 503.3,341.5 504.7,341.5 506.2,341.5 507.7,341.6 509.2,341.6 510.8,341.8 512.3,341.9 513.8,342.0 515.3,342.2 516.8,342.4 518.4,342.6 519.9,342.9 521.4,343.1 522.9,343.3 524.5,343.6 526.0,343.8 527.5,344.0 529.0,344.2 530.5,344.4 532.1,344.6 533.6,344.8 535.1,344.9 536.6,345.0 538.1,345.1 539.6,345.2 541.0,345.2 542.5,345.2 544.0,345.2 545.4,345.1 546.9,345.0 548.3,344.9 549.8,344.7 551.3,344.6 552.7,344.4 554.2,344.2 555.6,344.0 557.1,343.8 558.5,343.6 560.0,343.3 561.4,343.1 562.9,342.9 564.4,342.7 565.8,342.4 567.3,342.2 568.8,342.0 570.3,341.8 571.8,341.6 573.3,341.3 574.8,341.1 576.3,340.9 577.8,340.7 579.3,340.4 580.8,340.2 582.3,339.9 583.8,339.7 585.3,339.4 586.7,339.2 588.2,338.9 589.7,338.6 591.2,338.3 592.7,338.0 594.2,337.7 595.7,337.4 597.1,337.1 598.6,336.7 600.1,336.4 601.5,336.0 603.0,335.6 604.4,335.2 605.9,334.8 607.3,334.4 608.7,333.9 610.1,333.5 611.5,333.0 612.9,332.5 614.3,332.0 615.7,331.4 617.1,330.9 618.4,330.3 619.8,329.7 621.1,329.1 622.5,328.4 623.8,327.8 625.1,327.1 626.4,326.4 627.7,325.7 629.0,324.9 630.2,324.2 631.5,323.4 632.8,322.7 634.0,321.9 635.3,321.1 636.5,320.2 637.7,319.4 638.9,318.5 640.1,317.7 641.4,316.8 642.6,315.9 643.7,315.0 644.9,314.1 646.1,313.2 647.3,312.3 648.5,311.3 649.6,310.4 650.8,309.5 652.0,308.5 653.1,307.5 654.3,306.6 655.4,305.6 656.5,304.6 657.7,303.6 658.8,302.6 659.9,301.6 661.1,300.6 662.2,299.6 663.3,298.6 664.4,297.6 665.6,296.6 666.7,295.6 667.8,294.5 668.9,293.5 670.0,292.5 671.2,291.5 672.3,290.5 673.4,289.5 674.5,288.5 675.6,287.5 676.7,286.5 677.8,285.5 679.0,284.4 680.1,283.4 681.2,282.4 682.3,281.4 683.4,280.4 684.5,279.4 685.6,278.4 686.7,277.4 687.9,276.4 689.0,275.4 690.1,274.4 691.2,273.4 692.3,272.4 693.4,271.5 694.5,270.5 695.7,269.5 696.8,268.5 697.9,267.5 699.0,266.5 700.1,265.5 701.3,264.6 702.4,263.6 703.5,262.6 704.6,261.6 705.8,260.6 706.9,259.7 708.0,258.7 709.2,257.7 710.3,256.8 711.4,255.8 712.6,254.9 713.7,253.9 714.8,252.9 716.0,252.0 717.1,251.0 718.3,250.1 719.4,249.1 720.6,248.2 721.7,247.3 722.9,246.3 724.1,245.4 725.2,244.5 726.4,243.5 727.6,242.6 728.7,241.7 729.9,240.8 731.1,239.8 732.3,238.9 733.5,238.0 734.6,237.1 735.8,236.2 737.0,235.3 738.2,234.4 739.4,233.5 740.6,232.6 741.8,231.7 743.0,230.8 744.2,229.9 745.4,229.1 746.7,228.2 747.9,227.3 749.1,226.4 750.3,225.5 751.5,224.7 752.8,223.8 754.0,222.9 755.2,222.1 756.4,221.2 757.7,220.3 758.9,219.5 760.1,218.6 761.4,217.7 762.6,216.9 763.8,216.0 765.1,215.2 766.3,214.3 767.5,213.4 768.8,212.6 770.0,211.7 771.2,210.9 772.5,210.0 773.7,209.2 774.9,208.3 776.2,207.5 777.4,206.6 778.7,205.8 779.9,204.9 781.1,204.1 782.4,203.2 783.6,202.3 784.9,201.5 786.1,200.6 787.3,199.8 788.6,198.9 789.8,198.1 791.0,197.2 792.3,196.4 793.5,195.5 794.7,194.7 795.9,193.8 797.2,192.9 798.4,192.1 799.6,191.2 800.8,190.4 802.1,189.5 803.3,188.6 804.5,187.8 805.7,186.9 806.9,186.0 808.1,185.2 809.3,184.3 810.5,183.4 811.7,182.5 812.9,181.6 814.1,180.8 815.3,179.9 816.5,179.0 817.7,178.1 818.9,177.2 820.1,176.3 821.2,175.3 822.4,174.4 823.6,173.5 824.7,172.6 825.9,171.6 827.0,170.7 828.2,169.7 829.3,168.8 830.4,167.8 831.6,166.8 832.7,165.9 833.8,164.9 834.9,163.9 836.0,162.9 837.1,161.9 838.2,160.8 839.3,159.8 840.3,158.8 841.4,157.7 842.5,156.6 843.5,155.6 844.6,154.5 845.6,153.4 846.7,152.3 847.7,151.2 848.7,150.1 849.8,149.0 850.8,147.9 851.8,146.8 852.9,145.7 853.9,144.6 854.9,143.5 855.9,142.4 857.0,141.3 858.0,140.2 859.0,139.1 860.0,138.0 861.1,136.9 862.1,135.8 863.1,134.7 864.2,133.6 865.2,132.5 866.2,131.4 867.3,130.4 868.3,129.3 869.4,128.2 870.4,127.1 871.4,126.0 872.5,125.0 873.5,123.9 874.6,122.8 875.6,121.8 876.7,120.7 877.7,119.6 878.8,118.6 879.8,117.5 880.8,116.4 881.9,115.4 882.9,114.3 884.0,113.2 885.0,112.1 886.1,111.1 887.1,110.0 888.1,108.9 889.2,107.8 890.2,106.8 891.2,105.7 892.3,104.6 893.3,103.5 894.3,102.4 895.3,101.3 896.4,100.2 897.4,99.1 898.4,98.0 899.4,96.9 900.4,95.8 901.4,94.7 902.4,93.6 903.4,92.5 904.4,91.3 905.4,90.2 906.4,89.1 907.4,87.9 908.4,86.8 909.3,85.6 910.3,84.5" fill="none" stroke="#000000" stroke-width="5.3" stroke-linejoin="round" stroke-linecap="round"/>
<line x1="361.5" y1="47.5" x2="361.5" y2="223" stroke="#000" stroke-width="5"/>
<line x1="353.5" y1="220.5" x2="533" y2="220.5" stroke="#000" stroke-width="5"/>
<line x1="353.5" y1="50.3" x2="362" y2="50.3" stroke="#000" stroke-width="5"/>
<text x="341" y="60.2" text-anchor="end" class="t31">-3</text>
<line x1="353.5" y1="92.8" x2="362" y2="92.8" stroke="#000" stroke-width="5"/>
<text x="341" y="102.7" text-anchor="end" class="t31">-6</text>
<line x1="353.5" y1="135.4" x2="362" y2="135.4" stroke="#000" stroke-width="5"/>
<text x="341" y="145.3" text-anchor="end" class="t31">-9</text>
<line x1="353.5" y1="177.9" x2="362" y2="177.9" stroke="#000" stroke-width="5"/>
<text x="341" y="187.8" text-anchor="end" class="t31">-12</text>
<line x1="353.5" y1="220.5" x2="362" y2="220.5" stroke="#000" stroke-width="5"/>
<text x="341" y="230.4" text-anchor="end" class="t31">-15</text>
<line x1="360.6" y1="220" x2="360.6" y2="224" stroke="#000" stroke-width="4"/>
<text x="360.6" y="263.5" text-anchor="middle" class="t31">0</text>
<line x1="403.0" y1="220" x2="403.0" y2="224" stroke="#000" stroke-width="4"/>
<text x="403.0" y="263.5" text-anchor="middle" class="t31">3</text>
<line x1="445.3" y1="220" x2="445.3" y2="224" stroke="#000" stroke-width="4"/>
<text x="445.3" y="263.5" text-anchor="middle" class="t31">6</text>
<line x1="487.7" y1="220" x2="487.7" y2="224" stroke="#000" stroke-width="4"/>
<text x="487.7" y="263.5" text-anchor="middle" class="t31">9</text>
<line x1="530.0" y1="220" x2="530.0" y2="224" stroke="#000" stroke-width="4"/>
<text x="530.0" y="263.5" text-anchor="middle" class="t31">12</text>
<text x="450.6" y="298" text-anchor="middle" class="t32">Oligo [<tspan class="mu" style="font-size:37px"><tspan class="mu">μ</tspan></tspan>M]</text>
<text transform="translate(250.2,136.1) rotate(-90) scale(1,1.05)" text-anchor="middle" class="t33">CD at 208nm</text>
<text transform="translate(291,130.6) rotate(-90)" text-anchor="middle" class="t33">(mdeg)</text>
<polyline points="360.8,73 367.5,74.5 374,75.8 389.7,82.6 417.5,102.6 445.5,125.7 502.2,182.1" fill="none" stroke="#000" stroke-width="3.5"/>
<circle cx="360.8" cy="73" r="8.7" fill="#000"/>
<circle cx="367.5" cy="74.5" r="8.7" fill="#000"/>
<circle cx="374" cy="75.8" r="8.7" fill="#000"/>
<circle cx="389.7" cy="82.6" r="8.7" fill="#000"/>
<circle cx="417.5" cy="102.6" r="8.7" fill="#000"/>
<circle cx="445.5" cy="125.7" r="8.7" fill="#000"/>
<circle cx="502.2" cy="182.1" r="8.7" fill="#000"/>
<line x1="510" y1="478" x2="577" y2="478" stroke="#0000ff" stroke-width="4" stroke-linecap="round"/>
<text x="597.7" y="488" class="t27">IRP</text>
<text x="661.0" y="488" class="t30">alone</text>
<line x1="510" y1="517.9" x2="577" y2="517.9" stroke="#ff0000" stroke-width="5.5" stroke-linecap="round"/>
<text x="596.0" y="529.7" class="t27">IRP</text>
<text x="661.0" y="529.7" class="t30">+0.5 <tspan class="mu">μ</tspan>M Oligo</text>
<line x1="510" y1="558" x2="577" y2="558" stroke="#ff00ff" stroke-width="5.5" stroke-linecap="round"/>
<text x="595.1" y="568.2" class="t27">IRP</text>
<text x="661.0" y="568.2" class="t30">+1.0 <tspan class="mu">μ</tspan>M Oligo</text>
<line x1="510" y1="599.1" x2="577" y2="599.1" stroke="#00ffff" stroke-width="5.5" stroke-linecap="round"/>
<text x="592.4" y="608" class="t27">IRP</text>
<text x="661.0" y="608" class="t30">+2.0 <tspan class="mu">μ</tspan>M Oligo</text>
<line x1="510" y1="640" x2="577" y2="640" stroke="#006e00" stroke-width="5.5" stroke-linecap="round"/>
<text x="593.4" y="649" class="t27">IRP</text>
<text x="661.0" y="649" class="t30">+4.0 <tspan class="mu">μ</tspan>M Oligo</text>
<line x1="510" y1="679.3" x2="577" y2="679.3" stroke="#00ff00" stroke-width="5.5" stroke-linecap="round"/>
<text x="593.4" y="689.8" class="t27">IRP</text>
<text x="661.0" y="689.8" class="t30">+6.0 <tspan class="mu">μ</tspan>M Oligo</text>
<line x1="510" y1="720" x2="577" y2="720" stroke="#000000" stroke-width="5.5" stroke-linecap="round"/>
<text x="595.1" y="729.8" class="t27">IRP</text>
<text x="661.0" y="729.8" class="t30">+10.0 <tspan class="mu">μ</tspan>M Oligo</text>
</svg>
</body></html>
